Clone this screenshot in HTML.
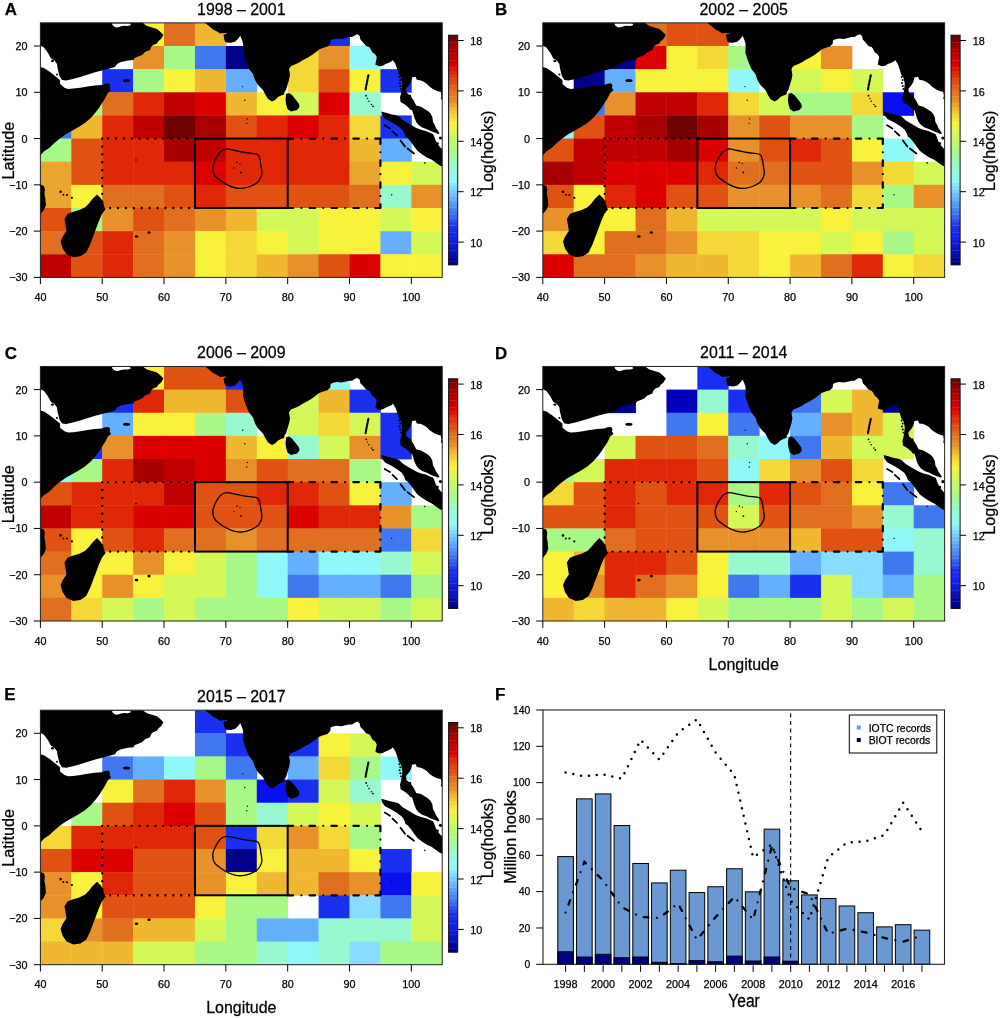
<!DOCTYPE html><html><head><meta charset="utf-8"><style>html,body{margin:0;padding:0;background:#fff;}svg{display:block;will-change:transform;}text{font-family:"Liberation Sans", sans-serif;fill:#000;stroke:#000;stroke-width:0.25px;}</style></head><body>
<svg width="1000" height="1018" viewBox="0 0 1000 1018">
<rect width="1000" height="1018" fill="#fff"/>
<defs>
<clipPath id="plotclip"><rect x="40.40" y="22.86" width="401.83" height="254.54"/></clipPath>
<g id="land"><path d="M30.0,10.0 L30.0,45.5 L40.2,45.5 L44.0,47.5 L48.0,53.0 L51.0,58.5 L54.0,60.0 L57.0,64.0 L57.5,68.0 L59.5,76.0 L62.0,80.0 L66.0,80.5 L73.0,79.0 L80.0,77.0 L88.0,74.5 L96.0,72.0 L102.0,70.5 L108.0,69.0 L115.0,67.0 L117.0,64.0 L121.0,62.0 L128.0,60.5 L133.5,60.0 L134.5,58.0 L137.0,57.0 L142.0,55.0 L145.0,52.0 L150.0,50.0 L151.0,47.0 L153.0,45.0 L157.0,43.5 L158.0,41.5 L161.0,39.0 L163.5,35.0 L162.0,33.5 L160.0,31.5 L157.0,29.0 L152.0,27.5 L147.0,26.0 L144.0,24.0 L142.5,22.0 L142.5,10.0ZM112.0,23.5 L130.0,23.5 L131.0,25.0 L128.0,26.0 L124.0,25.8 L121.0,26.3 L118.0,27.3 L116.0,27.5 L114.0,26.5 L112.5,25.0ZM20.0,67.0 L40.2,67.0 L44.0,68.0 L50.0,72.0 L55.0,76.0 L60.0,80.0 L60.1,84.1 L64.5,87.7 L68.1,89.0 L73.4,88.6 L80.4,87.7 L87.5,86.4 L94.6,85.5 L101.7,85.0 L105.2,83.7 L108.7,83.3 L110.1,85.5 L109.6,87.7 L111.0,90.3 L107.8,93.0 L105.2,98.3 L101.7,103.6 L99.0,108.0 L95.5,112.4 L91.0,117.7 L84.9,123.0 L77.8,127.5 L71.6,131.0 L65.4,134.5 L59.2,139.0 L53.9,143.4 L49.5,147.8 L44.2,151.3 L40.7,154.9 L30.0,157.0 L30.0,183.0 L40.5,184.6 L43.9,186.0 L44.9,189.5 L44.4,193.4 L45.4,199.3 L45.9,205.2 L43.9,210.1 L40.5,214.1 L30.0,216.0 L20.0,216.0ZM205.0,10.0 L205.0,23.0 L209.0,26.0 L213.0,29.5 L217.0,31.5 L220.0,33.5 L224.0,33.0 L227.5,33.2 L223.5,34.8 L224.0,38.0 L224.8,41.0 L226.0,42.5 L230.5,42.8 L235.0,41.8 L238.8,38.0 L240.2,35.8 L241.8,39.5 L243.0,43.0 L243.2,46.0 L243.0,53.0 L246.0,62.0 L249.0,69.0 L253.0,74.0 L255.0,80.0 L258.0,85.0 L263.0,90.0 L265.0,94.0 L268.0,99.0 L272.0,101.5 L275.0,100.0 L278.0,97.0 L281.0,95.5 L284.0,94.5 L284.5,92.0 L286.0,90.0 L287.5,85.0 L289.0,80.0 L290.0,75.0 L289.0,69.0 L291.0,66.0 L296.0,64.0 L300.0,62.0 L303.0,60.0 L307.0,58.0 L312.0,55.0 L316.0,52.0 L319.1,49.4 L324.0,47.6 L327.5,46.6 L330.3,43.8 L330.6,40.3 L333.1,39.2 L336.6,38.5 L341.5,38.9 L346.4,37.8 L348.8,37.1 L352.0,37.1 L355.5,35.0 L357.6,34.3 L359.7,36.1 L360.4,39.6 L363.2,42.4 L366.0,45.9 L369.5,47.3 L370.9,49.4 L372.3,52.2 L375.1,54.3 L376.8,57.1 L375.8,62.0 L375.4,64.8 L377.9,65.8 L379.9,66.2 L382.7,65.8 L385.5,64.1 L389.0,62.7 L391.8,61.3 L392.8,60.0 L395.2,63.6 L397.0,68.4 L398.8,74.4 L401.2,78.0 L402.4,84.0 L401.8,88.8 L401.2,93.0 L400.0,97.2 L400.6,102.0 L404.8,104.4 L409.0,108.0 L410.2,109.8 L412.0,110.0 L413.2,113.6 L414.4,117.8 L416.2,122.0 L418.6,125.0 L422.2,127.4 L427.0,129.2 L431.8,131.6 L435.4,132.8 L437.8,134.0 L439.6,133.4 L437.8,130.4 L436.0,128.0 L434.8,125.0 L433.0,122.0 L432.4,117.2 L430.6,113.6 L428.2,111.2 L427.0,110.5 L421.0,106.8 L416.2,105.6 L413.8,100.8 L411.4,97.2 L410.8,94.8 L409.0,94.8 L407.8,93.6 L406.6,93.0 L406.0,88.8 L409.0,85.2 L410.8,82.2 L411.7,79.2 L412.0,77.4 L415.6,76.8 L416.8,79.8 L421.0,80.4 L424.6,82.2 L427.0,84.0 L429.4,86.4 L431.8,88.2 L434.8,90.0 L437.8,91.2 L440.8,91.8 L441.4,96.0 L440.8,99.0 L442.6,99.6 L450.0,100.0 L450.0,10.0ZM381.2,111.5 L385.0,112.4 L391.0,114.2 L397.0,115.4 L399.4,116.6 L403.0,120.2 L409.0,123.8 L413.2,126.2 L416.2,128.0 L421.0,129.8 L425.8,131.0 L430.0,132.8 L433.0,134.0 L434.2,136.4 L436.0,141.2 L439.0,146.0 L441.4,148.4 L450.0,149.0 L450.0,167.0 L442.6,166.4 L440.2,165.8 L436.0,162.8 L431.8,159.8 L427.0,157.4 L422.2,154.4 L417.4,150.8 L413.8,146.0 L410.8,141.8 L407.8,138.2 L405.4,136.4 L404.2,132.8 L401.8,129.2 L397.0,125.6 L391.0,122.0 L385.0,119.0 L382.0,115.0ZM97.0,194.4 L100.9,198.3 L103.4,203.2 L104.8,208.2 L105.8,209.1 L101.9,214.1 L98.9,221.0 L96.0,228.8 L93.0,236.7 L90.1,244.5 L86.2,252.4 L80.3,256.3 L73.4,257.3 L66.5,254.3 L62.6,248.5 L60.6,241.6 L62.6,236.7 L66.5,230.8 L65.5,224.9 L64.5,219.0 L67.5,214.1 L72.4,212.1 L79.3,210.1 L85.2,207.2 L89.1,203.2 L92.1,199.3 L95.0,196.4ZM286.0,94.0 L289.0,93.0 L292.0,95.0 L296.0,100.0 L299.0,104.0 L299.5,107.0 L297.0,110.0 L291.0,111.5 L287.5,109.0 L286.0,104.0 L285.5,99.0 L286.0,96.0Z" fill="#000" fill-rule="evenodd"/><ellipse cx="52.5" cy="61.0" rx="1.50" ry="1.20" fill="#000"/><ellipse cx="57.0" cy="74.5" rx="1.00" ry="1.00" fill="#000"/><ellipse cx="126.5" cy="80.6" rx="3.60" ry="1.50" fill="#000"/><ellipse cx="60.6" cy="191.8" rx="1.30" ry="1.30" fill="#000"/><ellipse cx="63.4" cy="194.8" rx="1.00" ry="1.00" fill="#000"/><ellipse cx="67.0" cy="195.0" rx="1.10" ry="1.00" fill="#000"/><ellipse cx="71.9" cy="197.8" rx="1.10" ry="1.10" fill="#000"/><ellipse cx="136.0" cy="160.0" rx="0.80" ry="0.80" fill="#000"/><ellipse cx="136.5" cy="236.5" rx="1.80" ry="1.30" fill="#000"/><ellipse cx="149.0" cy="232.5" rx="1.60" ry="1.30" fill="#000"/><ellipse cx="242.7" cy="86.6" rx="0.70" ry="0.70" fill="#000"/><ellipse cx="244.8" cy="100.2" rx="0.70" ry="0.70" fill="#000"/><ellipse cx="247.3" cy="118.9" rx="0.70" ry="0.70" fill="#000"/><ellipse cx="246.8" cy="123.4" rx="0.70" ry="0.70" fill="#000"/><ellipse cx="366.1" cy="95.7" rx="0.90" ry="0.90" fill="#000"/><ellipse cx="367.5" cy="98.5" rx="0.70" ry="0.70" fill="#000"/><ellipse cx="368.9" cy="101.2" rx="0.80" ry="0.80" fill="#000"/><ellipse cx="371.5" cy="104.5" rx="0.80" ry="0.80" fill="#000"/><ellipse cx="373.0" cy="106.3" rx="0.90" ry="0.90" fill="#000"/><ellipse cx="391.7" cy="194.8" rx="0.70" ry="0.70" fill="#000"/><ellipse cx="424.8" cy="162.9" rx="0.80" ry="0.80" fill="#000"/><ellipse cx="399.3" cy="77.0" rx="1.00" ry="1.00" fill="#000"/><ellipse cx="400.3" cy="80.0" rx="1.00" ry="1.00" fill="#000"/><ellipse cx="399.6" cy="83.0" rx="1.00" ry="1.00" fill="#000"/><ellipse cx="400.4" cy="86.0" rx="1.00" ry="1.00" fill="#000"/><ellipse cx="401.0" cy="89.0" rx="0.90" ry="0.90" fill="#000"/><ellipse cx="440.5" cy="138.0" rx="1.60" ry="1.60" fill="#000"/><ellipse cx="437.5" cy="143.5" rx="1.30" ry="1.30" fill="#000"/><ellipse cx="237.0" cy="162.5" rx="0.80" ry="0.80" fill="#000"/><ellipse cx="240.0" cy="163.6" rx="0.60" ry="0.60" fill="#000"/><ellipse cx="234.0" cy="168.0" rx="0.70" ry="0.70" fill="#000"/><ellipse cx="241.0" cy="172.5" rx="0.90" ry="0.90" fill="#000"/><polyline points="368.4,75.3 367.4,80.0 366.4,85.0 365.6,89.5" fill="none" stroke="#000" stroke-width="2.1" stroke-linecap="round" stroke-dasharray="2.6 1.4"/><polyline points="384.7,125.3 390.0,128.5" fill="none" stroke="#000" stroke-width="1.8" stroke-linecap="round"/><polyline points="392.5,131.3 397.0,135.5" fill="none" stroke="#000" stroke-width="1.8" stroke-linecap="round"/><polyline points="400.5,140.5 405.0,146.5" fill="none" stroke="#000" stroke-width="1.8" stroke-linecap="round"/><polyline points="407.5,148.5 414.0,153.5" fill="none" stroke="#000" stroke-width="1.8" stroke-linecap="round"/></g>
<g id="boxes" fill="none" stroke="#000"><path d="M194.95,138.56 H102.22 M102.22,138.56 V207.98 M102.22,207.98 H194.95" stroke-width="2.4" stroke-dasharray="0 7.9" stroke-linecap="round"/><path d="M287.68,138.56 H380.41 M380.41,138.56 V207.98 M287.68,207.98 H380.41" stroke-width="2.2" stroke-dasharray="5.5 8.2 0 8.2" stroke-linecap="round"/><rect x="194.95" y="138.56" width="92.73" height="69.42" stroke-width="2"/><path d="M226.30,149.00 C228.76,148.75 231.88,149.92 235.00,150.50 C238.12,151.08 241.33,151.88 245.00,152.50 C248.67,153.12 254.58,153.33 257.00,154.25 C259.42,155.17 258.87,156.25 259.50,158.00 C260.13,159.75 260.40,162.12 260.80,164.75 C261.20,167.38 262.03,171.38 261.90,173.75 C261.77,176.12 260.82,177.50 260.00,179.00 C259.18,180.50 258.67,181.50 257.00,182.75 C255.33,184.00 252.50,185.56 250.00,186.50 C247.50,187.44 244.67,188.23 242.00,188.40 C239.33,188.57 236.75,188.25 234.00,187.50 C231.25,186.75 228.67,185.82 225.50,183.90 C222.33,181.98 217.12,178.69 215.00,176.00 C212.88,173.31 212.75,170.38 212.75,167.75 C212.75,165.12 213.75,162.88 215.00,160.25 C216.25,157.62 218.37,153.88 220.25,152.00 C222.13,150.12 223.84,149.25 226.30,149.00Z" stroke-width="1.3"/></g>
</defs>
<g transform="translate(0.00,0.00)">
<g clip-path="url(#plotclip)">
<rect x="133.13" y="22.86" width="31.31" height="23.54" fill="#f8f23c"/>
<rect x="164.04" y="22.86" width="31.31" height="23.54" fill="#e07020"/>
<rect x="194.95" y="22.86" width="31.31" height="23.54" fill="#f0b830"/>
<rect x="318.59" y="22.86" width="31.31" height="23.54" fill="#1a30f0"/>
<rect x="133.13" y="46.00" width="31.31" height="23.54" fill="#e8902a"/>
<rect x="164.04" y="46.00" width="31.31" height="23.54" fill="#a8f888"/>
<rect x="194.95" y="46.00" width="31.31" height="23.54" fill="#4078f0"/>
<rect x="225.86" y="46.00" width="31.31" height="23.54" fill="#00008c"/>
<rect x="287.68" y="46.00" width="31.31" height="23.54" fill="#f4d838"/>
<rect x="318.59" y="46.00" width="31.31" height="23.54" fill="#e8902a"/>
<rect x="349.50" y="46.00" width="31.31" height="23.54" fill="#90f8f8"/>
<rect x="102.22" y="69.14" width="31.31" height="23.54" fill="#1a30f0"/>
<rect x="133.13" y="69.14" width="31.31" height="23.54" fill="#a8f888"/>
<rect x="164.04" y="69.14" width="31.31" height="23.54" fill="#f8f23c"/>
<rect x="194.95" y="69.14" width="31.31" height="23.54" fill="#f0b830"/>
<rect x="225.86" y="69.14" width="31.31" height="23.54" fill="#64b0ff"/>
<rect x="287.68" y="69.14" width="31.31" height="23.54" fill="#f4d838"/>
<rect x="318.59" y="69.14" width="31.31" height="23.54" fill="#e05212"/>
<rect x="349.50" y="69.14" width="31.31" height="23.54" fill="#f8f23c"/>
<rect x="380.41" y="69.14" width="31.31" height="23.54" fill="#1a30f0"/>
<rect x="71.31" y="92.28" width="31.31" height="23.54" fill="#a8f888"/>
<rect x="102.22" y="92.28" width="31.31" height="23.54" fill="#e07020"/>
<rect x="133.13" y="92.28" width="31.31" height="23.54" fill="#e02808"/>
<rect x="164.04" y="92.28" width="31.31" height="23.54" fill="#c00000"/>
<rect x="194.95" y="92.28" width="31.31" height="23.54" fill="#dc0000"/>
<rect x="225.86" y="92.28" width="31.31" height="23.54" fill="#f0b830"/>
<rect x="256.77" y="92.28" width="31.31" height="23.54" fill="#f8f23c"/>
<rect x="287.68" y="92.28" width="31.31" height="23.54" fill="#d4f858"/>
<rect x="318.59" y="92.28" width="31.31" height="23.54" fill="#dc0000"/>
<rect x="349.50" y="92.28" width="31.31" height="23.54" fill="#98f8d0"/>
<rect x="40.40" y="115.42" width="31.31" height="23.54" fill="#4078f0"/>
<rect x="71.31" y="115.42" width="31.31" height="23.54" fill="#f0b830"/>
<rect x="102.22" y="115.42" width="31.31" height="23.54" fill="#e02808"/>
<rect x="133.13" y="115.42" width="31.31" height="23.54" fill="#c00000"/>
<rect x="164.04" y="115.42" width="31.31" height="23.54" fill="#700000"/>
<rect x="194.95" y="115.42" width="31.31" height="23.54" fill="#a80000"/>
<rect x="225.86" y="115.42" width="31.31" height="23.54" fill="#e05212"/>
<rect x="256.77" y="115.42" width="31.31" height="23.54" fill="#e02808"/>
<rect x="287.68" y="115.42" width="31.31" height="23.54" fill="#dc0000"/>
<rect x="318.59" y="115.42" width="31.31" height="23.54" fill="#e02808"/>
<rect x="349.50" y="115.42" width="31.31" height="23.54" fill="#f4d838"/>
<rect x="380.41" y="115.42" width="31.31" height="23.54" fill="#1a30f0"/>
<rect x="40.40" y="138.56" width="31.31" height="23.54" fill="#a8f888"/>
<rect x="71.31" y="138.56" width="31.31" height="23.54" fill="#e05212"/>
<rect x="102.22" y="138.56" width="31.31" height="23.54" fill="#e02808"/>
<rect x="133.13" y="138.56" width="31.31" height="23.54" fill="#e02808"/>
<rect x="164.04" y="138.56" width="31.31" height="23.54" fill="#a80000"/>
<rect x="194.95" y="138.56" width="31.31" height="23.54" fill="#c00000"/>
<rect x="225.86" y="138.56" width="31.31" height="23.54" fill="#e02808"/>
<rect x="256.77" y="138.56" width="31.31" height="23.54" fill="#e02808"/>
<rect x="287.68" y="138.56" width="31.31" height="23.54" fill="#e02808"/>
<rect x="318.59" y="138.56" width="31.31" height="23.54" fill="#e02808"/>
<rect x="349.50" y="138.56" width="31.31" height="23.54" fill="#f0b830"/>
<rect x="380.41" y="138.56" width="31.31" height="23.54" fill="#64b0ff"/>
<rect x="40.40" y="161.70" width="31.31" height="23.54" fill="#eaa62e"/>
<rect x="71.31" y="161.70" width="31.31" height="23.54" fill="#e05212"/>
<rect x="102.22" y="161.70" width="31.31" height="23.54" fill="#e02808"/>
<rect x="133.13" y="161.70" width="31.31" height="23.54" fill="#e02808"/>
<rect x="164.04" y="161.70" width="31.31" height="23.54" fill="#e02808"/>
<rect x="194.95" y="161.70" width="31.31" height="23.54" fill="#dc0000"/>
<rect x="225.86" y="161.70" width="31.31" height="23.54" fill="#e02808"/>
<rect x="256.77" y="161.70" width="31.31" height="23.54" fill="#e02808"/>
<rect x="287.68" y="161.70" width="31.31" height="23.54" fill="#e02808"/>
<rect x="318.59" y="161.70" width="31.31" height="23.54" fill="#e02808"/>
<rect x="349.50" y="161.70" width="31.31" height="23.54" fill="#eaa62e"/>
<rect x="380.41" y="161.70" width="31.31" height="23.54" fill="#f8f23c"/>
<rect x="411.32" y="161.70" width="31.31" height="23.54" fill="#d4f858"/>
<rect x="40.40" y="184.84" width="31.31" height="23.54" fill="#eaa62e"/>
<rect x="71.31" y="184.84" width="31.31" height="23.54" fill="#f8f23c"/>
<rect x="102.22" y="184.84" width="31.31" height="23.54" fill="#e07020"/>
<rect x="133.13" y="184.84" width="31.31" height="23.54" fill="#e07020"/>
<rect x="164.04" y="184.84" width="31.31" height="23.54" fill="#e05212"/>
<rect x="194.95" y="184.84" width="31.31" height="23.54" fill="#e02808"/>
<rect x="225.86" y="184.84" width="31.31" height="23.54" fill="#e05212"/>
<rect x="256.77" y="184.84" width="31.31" height="23.54" fill="#e05212"/>
<rect x="287.68" y="184.84" width="31.31" height="23.54" fill="#e05212"/>
<rect x="318.59" y="184.84" width="31.31" height="23.54" fill="#e05212"/>
<rect x="349.50" y="184.84" width="31.31" height="23.54" fill="#e07020"/>
<rect x="380.41" y="184.84" width="31.31" height="23.54" fill="#98f8d0"/>
<rect x="411.32" y="184.84" width="31.31" height="23.54" fill="#e8902a"/>
<rect x="40.40" y="207.98" width="31.31" height="23.54" fill="#e05212"/>
<rect x="71.31" y="207.98" width="31.31" height="23.54" fill="#a8f888"/>
<rect x="102.22" y="207.98" width="31.31" height="23.54" fill="#e8902a"/>
<rect x="133.13" y="207.98" width="31.31" height="23.54" fill="#e05212"/>
<rect x="164.04" y="207.98" width="31.31" height="23.54" fill="#e07020"/>
<rect x="194.95" y="207.98" width="31.31" height="23.54" fill="#e8902a"/>
<rect x="225.86" y="207.98" width="31.31" height="23.54" fill="#f0b830"/>
<rect x="256.77" y="207.98" width="31.31" height="23.54" fill="#d4f858"/>
<rect x="287.68" y="207.98" width="31.31" height="23.54" fill="#d4f858"/>
<rect x="318.59" y="207.98" width="31.31" height="23.54" fill="#f8f23c"/>
<rect x="349.50" y="207.98" width="31.31" height="23.54" fill="#f8f23c"/>
<rect x="380.41" y="207.98" width="31.31" height="23.54" fill="#d4f858"/>
<rect x="411.32" y="207.98" width="31.31" height="23.54" fill="#f8f23c"/>
<rect x="40.40" y="231.12" width="31.31" height="23.54" fill="#e07020"/>
<rect x="71.31" y="231.12" width="31.31" height="23.54" fill="#e05212"/>
<rect x="102.22" y="231.12" width="31.31" height="23.54" fill="#e02808"/>
<rect x="133.13" y="231.12" width="31.31" height="23.54" fill="#e07020"/>
<rect x="164.04" y="231.12" width="31.31" height="23.54" fill="#e8902a"/>
<rect x="194.95" y="231.12" width="31.31" height="23.54" fill="#f8f23c"/>
<rect x="225.86" y="231.12" width="31.31" height="23.54" fill="#f4d838"/>
<rect x="256.77" y="231.12" width="31.31" height="23.54" fill="#f8f23c"/>
<rect x="287.68" y="231.12" width="31.31" height="23.54" fill="#d4f858"/>
<rect x="318.59" y="231.12" width="31.31" height="23.54" fill="#f8f23c"/>
<rect x="349.50" y="231.12" width="31.31" height="23.54" fill="#f8f23c"/>
<rect x="380.41" y="231.12" width="31.31" height="23.54" fill="#64b0ff"/>
<rect x="411.32" y="231.12" width="31.31" height="23.54" fill="#d4f858"/>
<rect x="40.40" y="254.26" width="31.31" height="23.54" fill="#c00000"/>
<rect x="71.31" y="254.26" width="31.31" height="23.54" fill="#e05212"/>
<rect x="102.22" y="254.26" width="31.31" height="23.54" fill="#e02808"/>
<rect x="133.13" y="254.26" width="31.31" height="23.54" fill="#e07020"/>
<rect x="164.04" y="254.26" width="31.31" height="23.54" fill="#e8902a"/>
<rect x="194.95" y="254.26" width="31.31" height="23.54" fill="#f8f23c"/>
<rect x="225.86" y="254.26" width="31.31" height="23.54" fill="#f4d838"/>
<rect x="256.77" y="254.26" width="31.31" height="23.54" fill="#f0b830"/>
<rect x="287.68" y="254.26" width="31.31" height="23.54" fill="#e8902a"/>
<rect x="318.59" y="254.26" width="31.31" height="23.54" fill="#e05212"/>
<rect x="349.50" y="254.26" width="31.31" height="23.54" fill="#dc0000"/>
<rect x="380.41" y="254.26" width="31.31" height="23.54" fill="#f8f23c"/>
<rect x="411.32" y="254.26" width="31.31" height="23.54" fill="#f8f23c"/>
<use href="#land"/>
</g>
<use href="#boxes"/>
<rect x="40.40" y="22.86" width="401.83" height="254.54" fill="none" stroke="#222" stroke-width="1"/>
<line x1="33.80" y1="46.00" x2="40.40" y2="46.00" stroke="#000" stroke-width="1"/>
<text x="27.6" y="50.00" text-anchor="end" font-size="10.8">20</text>
<line x1="33.80" y1="92.28" x2="40.40" y2="92.28" stroke="#000" stroke-width="1"/>
<text x="27.6" y="96.28" text-anchor="end" font-size="10.8">10</text>
<line x1="33.80" y1="138.56" x2="40.40" y2="138.56" stroke="#000" stroke-width="1"/>
<text x="27.6" y="142.56" text-anchor="end" font-size="10.8">0</text>
<line x1="33.80" y1="184.84" x2="40.40" y2="184.84" stroke="#000" stroke-width="1"/>
<text x="27.6" y="188.84" text-anchor="end" font-size="10.8">−10</text>
<line x1="33.80" y1="231.12" x2="40.40" y2="231.12" stroke="#000" stroke-width="1"/>
<text x="27.6" y="235.12" text-anchor="end" font-size="10.8">−20</text>
<line x1="33.80" y1="277.40" x2="40.40" y2="277.40" stroke="#000" stroke-width="1"/>
<text x="27.6" y="281.40" text-anchor="end" font-size="10.8">−30</text>
<line x1="40.40" y1="277.40" x2="40.40" y2="284.20" stroke="#000" stroke-width="1"/>
<text x="40.40" y="301.0" text-anchor="middle" font-size="10.8">40</text>
<line x1="102.22" y1="277.40" x2="102.22" y2="284.20" stroke="#000" stroke-width="1"/>
<text x="102.22" y="301.0" text-anchor="middle" font-size="10.8">50</text>
<line x1="164.04" y1="277.40" x2="164.04" y2="284.20" stroke="#000" stroke-width="1"/>
<text x="164.04" y="301.0" text-anchor="middle" font-size="10.8">60</text>
<line x1="225.86" y1="277.40" x2="225.86" y2="284.20" stroke="#000" stroke-width="1"/>
<text x="225.86" y="301.0" text-anchor="middle" font-size="10.8">70</text>
<line x1="287.68" y1="277.40" x2="287.68" y2="284.20" stroke="#000" stroke-width="1"/>
<text x="287.68" y="301.0" text-anchor="middle" font-size="10.8">80</text>
<line x1="349.50" y1="277.40" x2="349.50" y2="284.20" stroke="#000" stroke-width="1"/>
<text x="349.50" y="301.0" text-anchor="middle" font-size="10.8">90</text>
<line x1="411.32" y1="277.40" x2="411.32" y2="284.20" stroke="#000" stroke-width="1"/>
<text x="411.32" y="301.0" text-anchor="middle" font-size="10.8">100</text>
<text transform="translate(241.31,14.5) scale(1,1.06)" text-anchor="middle" font-size="15.9">1998 – 2001</text>
<text transform="translate(13.5,150.6) rotate(-90)" text-anchor="middle" font-size="16.3">Latitude</text>
</g>
<rect x="448.60" y="261.21" width="9.10" height="3.89" fill="#00008c"/>
<rect x="448.60" y="257.62" width="9.10" height="3.89" fill="#03059a"/>
<rect x="448.60" y="254.04" width="9.10" height="3.89" fill="#0609a9"/>
<rect x="448.60" y="250.45" width="9.10" height="3.89" fill="#090eb7"/>
<rect x="448.60" y="246.86" width="9.10" height="3.89" fill="#0b12c5"/>
<rect x="448.60" y="243.28" width="9.10" height="3.89" fill="#0e17d3"/>
<rect x="448.60" y="239.69" width="9.10" height="3.89" fill="#111be2"/>
<rect x="448.60" y="236.10" width="9.10" height="3.89" fill="#1420f0"/>
<rect x="448.60" y="232.51" width="9.10" height="3.89" fill="#1625f0"/>
<rect x="448.60" y="228.93" width="9.10" height="3.89" fill="#182bf0"/>
<rect x="448.60" y="225.34" width="9.10" height="3.89" fill="#1a30f0"/>
<rect x="448.60" y="221.75" width="9.10" height="3.89" fill="#2442f0"/>
<rect x="448.60" y="218.16" width="9.10" height="3.89" fill="#2d54f0"/>
<rect x="448.60" y="214.57" width="9.10" height="3.89" fill="#3666f0"/>
<rect x="448.60" y="210.99" width="9.10" height="3.89" fill="#4078f0"/>
<rect x="448.60" y="207.40" width="9.10" height="3.89" fill="#4986f4"/>
<rect x="448.60" y="203.81" width="9.10" height="3.89" fill="#5294f8"/>
<rect x="448.60" y="200.23" width="9.10" height="3.89" fill="#5ba2fb"/>
<rect x="448.60" y="196.64" width="9.10" height="3.89" fill="#64b0ff"/>
<rect x="448.60" y="193.05" width="9.10" height="3.89" fill="#6dbefe"/>
<rect x="448.60" y="189.46" width="9.10" height="3.89" fill="#76cdfc"/>
<rect x="448.60" y="185.88" width="9.10" height="3.89" fill="#7edbfb"/>
<rect x="448.60" y="182.29" width="9.10" height="3.89" fill="#87eaf9"/>
<rect x="448.60" y="178.70" width="9.10" height="3.89" fill="#90f8f8"/>
<rect x="448.60" y="175.11" width="9.10" height="3.89" fill="#92f8ee"/>
<rect x="448.60" y="171.53" width="9.10" height="3.89" fill="#94f8e4"/>
<rect x="448.60" y="167.94" width="9.10" height="3.89" fill="#96f8da"/>
<rect x="448.60" y="164.35" width="9.10" height="3.89" fill="#98f8d0"/>
<rect x="448.60" y="160.76" width="9.10" height="3.89" fill="#9cf8be"/>
<rect x="448.60" y="157.18" width="9.10" height="3.89" fill="#a0f8ac"/>
<rect x="448.60" y="153.59" width="9.10" height="3.89" fill="#a4f89a"/>
<rect x="448.60" y="150.00" width="9.10" height="3.89" fill="#a8f888"/>
<rect x="448.60" y="146.41" width="9.10" height="3.89" fill="#b1f87e"/>
<rect x="448.60" y="142.82" width="9.10" height="3.89" fill="#baf875"/>
<rect x="448.60" y="139.24" width="9.10" height="3.89" fill="#c2f86b"/>
<rect x="448.60" y="135.65" width="9.10" height="3.89" fill="#cbf862"/>
<rect x="448.60" y="132.06" width="9.10" height="3.89" fill="#d4f858"/>
<rect x="448.60" y="128.47" width="9.10" height="3.89" fill="#e0f64f"/>
<rect x="448.60" y="124.89" width="9.10" height="3.89" fill="#ecf445"/>
<rect x="448.60" y="121.30" width="9.10" height="3.89" fill="#f8f23c"/>
<rect x="448.60" y="117.71" width="9.10" height="3.89" fill="#f6e53a"/>
<rect x="448.60" y="114.12" width="9.10" height="3.89" fill="#f4d838"/>
<rect x="448.60" y="110.54" width="9.10" height="3.89" fill="#f2c834"/>
<rect x="448.60" y="106.95" width="9.10" height="3.89" fill="#f0b830"/>
<rect x="448.60" y="103.36" width="9.10" height="3.89" fill="#eca42d"/>
<rect x="448.60" y="99.78" width="9.10" height="3.89" fill="#e8902a"/>
<rect x="448.60" y="96.19" width="9.10" height="3.89" fill="#e58527"/>
<rect x="448.60" y="92.60" width="9.10" height="3.89" fill="#e37b23"/>
<rect x="448.60" y="89.01" width="9.10" height="3.89" fill="#e07020"/>
<rect x="448.60" y="85.42" width="9.10" height="3.89" fill="#e06119"/>
<rect x="448.60" y="81.84" width="9.10" height="3.89" fill="#e05212"/>
<rect x="448.60" y="78.25" width="9.10" height="3.89" fill="#e0440f"/>
<rect x="448.60" y="74.66" width="9.10" height="3.89" fill="#e0360b"/>
<rect x="448.60" y="71.07" width="9.10" height="3.89" fill="#e02808"/>
<rect x="448.60" y="67.49" width="9.10" height="3.89" fill="#de1404"/>
<rect x="448.60" y="63.90" width="9.10" height="3.89" fill="#dc0000"/>
<rect x="448.60" y="60.31" width="9.10" height="3.89" fill="#d30000"/>
<rect x="448.60" y="56.72" width="9.10" height="3.89" fill="#c90000"/>
<rect x="448.60" y="53.14" width="9.10" height="3.89" fill="#c00000"/>
<rect x="448.60" y="49.55" width="9.10" height="3.89" fill="#b40000"/>
<rect x="448.60" y="45.96" width="9.10" height="3.89" fill="#a80000"/>
<rect x="448.60" y="42.38" width="9.10" height="3.89" fill="#950000"/>
<rect x="448.60" y="38.79" width="9.10" height="3.89" fill="#830000"/>
<rect x="448.60" y="35.20" width="9.10" height="3.89" fill="#700000"/>
<rect x="448.60" y="35.20" width="9.10" height="229.60" fill="none" stroke="#111" stroke-width="1"/>
<line x1="457.70" y1="242.10" x2="463.70" y2="242.10" stroke="#000" stroke-width="1"/>
<text x="470.30" y="246.70" font-size="10.8">10</text>
<line x1="457.70" y1="191.70" x2="463.70" y2="191.70" stroke="#000" stroke-width="1"/>
<text x="470.30" y="196.30" font-size="10.8">12</text>
<line x1="457.70" y1="141.30" x2="463.70" y2="141.30" stroke="#000" stroke-width="1"/>
<text x="470.30" y="145.90" font-size="10.8">14</text>
<line x1="457.70" y1="90.90" x2="463.70" y2="90.90" stroke="#000" stroke-width="1"/>
<text x="470.30" y="95.50" font-size="10.8">16</text>
<line x1="457.70" y1="40.50" x2="463.70" y2="40.50" stroke="#000" stroke-width="1"/>
<text x="470.30" y="45.10" font-size="10.8">18</text>
<text transform="translate(493.00,150.80) rotate(-90)" text-anchor="middle" font-size="16.1">Log(hooks)</text>
<g transform="translate(502.40,0.00)">
<g clip-path="url(#plotclip)">
<rect x="133.13" y="22.86" width="31.31" height="23.54" fill="#e07020"/>
<rect x="164.04" y="22.86" width="31.31" height="23.54" fill="#e05212"/>
<rect x="194.95" y="22.86" width="31.31" height="23.54" fill="#e05212"/>
<rect x="102.22" y="46.00" width="31.31" height="23.54" fill="#00008c"/>
<rect x="133.13" y="46.00" width="31.31" height="23.54" fill="#dc0000"/>
<rect x="164.04" y="46.00" width="31.31" height="23.54" fill="#f8f23c"/>
<rect x="194.95" y="46.00" width="31.31" height="23.54" fill="#f4d838"/>
<rect x="225.86" y="46.00" width="31.31" height="23.54" fill="#a8f888"/>
<rect x="287.68" y="46.00" width="31.31" height="23.54" fill="#f8f23c"/>
<rect x="318.59" y="46.00" width="31.31" height="23.54" fill="#e8902a"/>
<rect x="71.31" y="69.14" width="31.31" height="23.54" fill="#00008c"/>
<rect x="102.22" y="69.14" width="31.31" height="23.54" fill="#64b0ff"/>
<rect x="133.13" y="69.14" width="31.31" height="23.54" fill="#f8f23c"/>
<rect x="164.04" y="69.14" width="31.31" height="23.54" fill="#f8f23c"/>
<rect x="194.95" y="69.14" width="31.31" height="23.54" fill="#f8f23c"/>
<rect x="225.86" y="69.14" width="31.31" height="23.54" fill="#90f8f8"/>
<rect x="287.68" y="69.14" width="31.31" height="23.54" fill="#d4f858"/>
<rect x="318.59" y="69.14" width="31.31" height="23.54" fill="#f8f23c"/>
<rect x="349.50" y="69.14" width="31.31" height="23.54" fill="#d4f858"/>
<rect x="71.31" y="92.28" width="31.31" height="23.54" fill="#4078f0"/>
<rect x="102.22" y="92.28" width="31.31" height="23.54" fill="#e8902a"/>
<rect x="133.13" y="92.28" width="31.31" height="23.54" fill="#c00000"/>
<rect x="164.04" y="92.28" width="31.31" height="23.54" fill="#c00000"/>
<rect x="194.95" y="92.28" width="31.31" height="23.54" fill="#e02808"/>
<rect x="225.86" y="92.28" width="31.31" height="23.54" fill="#f4d838"/>
<rect x="256.77" y="92.28" width="31.31" height="23.54" fill="#d4f858"/>
<rect x="287.68" y="92.28" width="31.31" height="23.54" fill="#a8f888"/>
<rect x="318.59" y="92.28" width="31.31" height="23.54" fill="#a8f888"/>
<rect x="349.50" y="92.28" width="31.31" height="23.54" fill="#f4d838"/>
<rect x="380.41" y="92.28" width="31.31" height="23.54" fill="#0810ec"/>
<rect x="40.40" y="115.42" width="31.31" height="23.54" fill="#90f8f8"/>
<rect x="71.31" y="115.42" width="31.31" height="23.54" fill="#e05212"/>
<rect x="102.22" y="115.42" width="31.31" height="23.54" fill="#c00000"/>
<rect x="133.13" y="115.42" width="31.31" height="23.54" fill="#a80000"/>
<rect x="164.04" y="115.42" width="31.31" height="23.54" fill="#700000"/>
<rect x="194.95" y="115.42" width="31.31" height="23.54" fill="#a80000"/>
<rect x="225.86" y="115.42" width="31.31" height="23.54" fill="#e8902a"/>
<rect x="256.77" y="115.42" width="31.31" height="23.54" fill="#e05212"/>
<rect x="287.68" y="115.42" width="31.31" height="23.54" fill="#e8902a"/>
<rect x="318.59" y="115.42" width="31.31" height="23.54" fill="#e8902a"/>
<rect x="349.50" y="115.42" width="31.31" height="23.54" fill="#a8f888"/>
<rect x="40.40" y="138.56" width="31.31" height="23.54" fill="#e05212"/>
<rect x="71.31" y="138.56" width="31.31" height="23.54" fill="#c00000"/>
<rect x="102.22" y="138.56" width="31.31" height="23.54" fill="#c00000"/>
<rect x="133.13" y="138.56" width="31.31" height="23.54" fill="#c00000"/>
<rect x="164.04" y="138.56" width="31.31" height="23.54" fill="#a80000"/>
<rect x="194.95" y="138.56" width="31.31" height="23.54" fill="#dc0000"/>
<rect x="225.86" y="138.56" width="31.31" height="23.54" fill="#e8902a"/>
<rect x="256.77" y="138.56" width="31.31" height="23.54" fill="#e05212"/>
<rect x="287.68" y="138.56" width="31.31" height="23.54" fill="#e02808"/>
<rect x="318.59" y="138.56" width="31.31" height="23.54" fill="#e05212"/>
<rect x="349.50" y="138.56" width="31.31" height="23.54" fill="#f8f23c"/>
<rect x="380.41" y="138.56" width="31.31" height="23.54" fill="#90f8f8"/>
<rect x="40.40" y="161.70" width="31.31" height="23.54" fill="#a80000"/>
<rect x="71.31" y="161.70" width="31.31" height="23.54" fill="#c00000"/>
<rect x="102.22" y="161.70" width="31.31" height="23.54" fill="#dc0000"/>
<rect x="133.13" y="161.70" width="31.31" height="23.54" fill="#dc0000"/>
<rect x="164.04" y="161.70" width="31.31" height="23.54" fill="#dc0000"/>
<rect x="194.95" y="161.70" width="31.31" height="23.54" fill="#e02808"/>
<rect x="225.86" y="161.70" width="31.31" height="23.54" fill="#e07020"/>
<rect x="256.77" y="161.70" width="31.31" height="23.54" fill="#e07020"/>
<rect x="287.68" y="161.70" width="31.31" height="23.54" fill="#e05212"/>
<rect x="318.59" y="161.70" width="31.31" height="23.54" fill="#e05212"/>
<rect x="349.50" y="161.70" width="31.31" height="23.54" fill="#e8902a"/>
<rect x="380.41" y="161.70" width="31.31" height="23.54" fill="#f4d838"/>
<rect x="411.32" y="161.70" width="31.31" height="23.54" fill="#d4f858"/>
<rect x="40.40" y="184.84" width="31.31" height="23.54" fill="#e05212"/>
<rect x="71.31" y="184.84" width="31.31" height="23.54" fill="#f8f23c"/>
<rect x="102.22" y="184.84" width="31.31" height="23.54" fill="#e02808"/>
<rect x="133.13" y="184.84" width="31.31" height="23.54" fill="#dc0000"/>
<rect x="164.04" y="184.84" width="31.31" height="23.54" fill="#e05212"/>
<rect x="194.95" y="184.84" width="31.31" height="23.54" fill="#e05212"/>
<rect x="225.86" y="184.84" width="31.31" height="23.54" fill="#e8902a"/>
<rect x="256.77" y="184.84" width="31.31" height="23.54" fill="#e8902a"/>
<rect x="287.68" y="184.84" width="31.31" height="23.54" fill="#e8902a"/>
<rect x="318.59" y="184.84" width="31.31" height="23.54" fill="#e07020"/>
<rect x="349.50" y="184.84" width="31.31" height="23.54" fill="#f4d838"/>
<rect x="380.41" y="184.84" width="31.31" height="23.54" fill="#a8f888"/>
<rect x="411.32" y="184.84" width="31.31" height="23.54" fill="#e8902a"/>
<rect x="40.40" y="207.98" width="31.31" height="23.54" fill="#e8902a"/>
<rect x="71.31" y="207.98" width="31.31" height="23.54" fill="#f8f23c"/>
<rect x="102.22" y="207.98" width="31.31" height="23.54" fill="#f8f23c"/>
<rect x="133.13" y="207.98" width="31.31" height="23.54" fill="#e07020"/>
<rect x="164.04" y="207.98" width="31.31" height="23.54" fill="#f0b830"/>
<rect x="194.95" y="207.98" width="31.31" height="23.54" fill="#d4f858"/>
<rect x="225.86" y="207.98" width="31.31" height="23.54" fill="#d4f858"/>
<rect x="256.77" y="207.98" width="31.31" height="23.54" fill="#d4f858"/>
<rect x="287.68" y="207.98" width="31.31" height="23.54" fill="#d4f858"/>
<rect x="318.59" y="207.98" width="31.31" height="23.54" fill="#f8f23c"/>
<rect x="349.50" y="207.98" width="31.31" height="23.54" fill="#d4f858"/>
<rect x="380.41" y="207.98" width="31.31" height="23.54" fill="#d4f858"/>
<rect x="411.32" y="207.98" width="31.31" height="23.54" fill="#d4f858"/>
<rect x="40.40" y="231.12" width="31.31" height="23.54" fill="#f4d838"/>
<rect x="71.31" y="231.12" width="31.31" height="23.54" fill="#f8f23c"/>
<rect x="102.22" y="231.12" width="31.31" height="23.54" fill="#e07020"/>
<rect x="133.13" y="231.12" width="31.31" height="23.54" fill="#e07020"/>
<rect x="164.04" y="231.12" width="31.31" height="23.54" fill="#e8902a"/>
<rect x="194.95" y="231.12" width="31.31" height="23.54" fill="#f4d838"/>
<rect x="225.86" y="231.12" width="31.31" height="23.54" fill="#f4d838"/>
<rect x="256.77" y="231.12" width="31.31" height="23.54" fill="#f8f23c"/>
<rect x="287.68" y="231.12" width="31.31" height="23.54" fill="#f8f23c"/>
<rect x="318.59" y="231.12" width="31.31" height="23.54" fill="#d4f858"/>
<rect x="349.50" y="231.12" width="31.31" height="23.54" fill="#f8f23c"/>
<rect x="380.41" y="231.12" width="31.31" height="23.54" fill="#a8f888"/>
<rect x="411.32" y="231.12" width="31.31" height="23.54" fill="#d4f858"/>
<rect x="40.40" y="254.26" width="31.31" height="23.54" fill="#dc0000"/>
<rect x="71.31" y="254.26" width="31.31" height="23.54" fill="#e07020"/>
<rect x="102.22" y="254.26" width="31.31" height="23.54" fill="#e07020"/>
<rect x="133.13" y="254.26" width="31.31" height="23.54" fill="#e8902a"/>
<rect x="164.04" y="254.26" width="31.31" height="23.54" fill="#f0b830"/>
<rect x="194.95" y="254.26" width="31.31" height="23.54" fill="#f0b830"/>
<rect x="225.86" y="254.26" width="31.31" height="23.54" fill="#f4d838"/>
<rect x="256.77" y="254.26" width="31.31" height="23.54" fill="#f8f23c"/>
<rect x="287.68" y="254.26" width="31.31" height="23.54" fill="#f0b830"/>
<rect x="318.59" y="254.26" width="31.31" height="23.54" fill="#e07020"/>
<rect x="349.50" y="254.26" width="31.31" height="23.54" fill="#e02808"/>
<rect x="380.41" y="254.26" width="31.31" height="23.54" fill="#f8f23c"/>
<rect x="411.32" y="254.26" width="31.31" height="23.54" fill="#f4d838"/>
<use href="#land"/>
</g>
<use href="#boxes"/>
<rect x="40.40" y="22.86" width="401.83" height="254.54" fill="none" stroke="#222" stroke-width="1"/>
<line x1="33.80" y1="46.00" x2="40.40" y2="46.00" stroke="#000" stroke-width="1"/>
<text x="27.6" y="50.00" text-anchor="end" font-size="10.8">20</text>
<line x1="33.80" y1="92.28" x2="40.40" y2="92.28" stroke="#000" stroke-width="1"/>
<text x="27.6" y="96.28" text-anchor="end" font-size="10.8">10</text>
<line x1="33.80" y1="138.56" x2="40.40" y2="138.56" stroke="#000" stroke-width="1"/>
<text x="27.6" y="142.56" text-anchor="end" font-size="10.8">0</text>
<line x1="33.80" y1="184.84" x2="40.40" y2="184.84" stroke="#000" stroke-width="1"/>
<text x="27.6" y="188.84" text-anchor="end" font-size="10.8">−10</text>
<line x1="33.80" y1="231.12" x2="40.40" y2="231.12" stroke="#000" stroke-width="1"/>
<text x="27.6" y="235.12" text-anchor="end" font-size="10.8">−20</text>
<line x1="33.80" y1="277.40" x2="40.40" y2="277.40" stroke="#000" stroke-width="1"/>
<text x="27.6" y="281.40" text-anchor="end" font-size="10.8">−30</text>
<line x1="40.40" y1="277.40" x2="40.40" y2="284.20" stroke="#000" stroke-width="1"/>
<text x="40.40" y="301.0" text-anchor="middle" font-size="10.8">40</text>
<line x1="102.22" y1="277.40" x2="102.22" y2="284.20" stroke="#000" stroke-width="1"/>
<text x="102.22" y="301.0" text-anchor="middle" font-size="10.8">50</text>
<line x1="164.04" y1="277.40" x2="164.04" y2="284.20" stroke="#000" stroke-width="1"/>
<text x="164.04" y="301.0" text-anchor="middle" font-size="10.8">60</text>
<line x1="225.86" y1="277.40" x2="225.86" y2="284.20" stroke="#000" stroke-width="1"/>
<text x="225.86" y="301.0" text-anchor="middle" font-size="10.8">70</text>
<line x1="287.68" y1="277.40" x2="287.68" y2="284.20" stroke="#000" stroke-width="1"/>
<text x="287.68" y="301.0" text-anchor="middle" font-size="10.8">80</text>
<line x1="349.50" y1="277.40" x2="349.50" y2="284.20" stroke="#000" stroke-width="1"/>
<text x="349.50" y="301.0" text-anchor="middle" font-size="10.8">90</text>
<line x1="411.32" y1="277.40" x2="411.32" y2="284.20" stroke="#000" stroke-width="1"/>
<text x="411.32" y="301.0" text-anchor="middle" font-size="10.8">100</text>
<text transform="translate(241.31,14.5) scale(1,1.06)" text-anchor="middle" font-size="15.9">2002 – 2005</text>
</g>
<rect x="951.00" y="261.21" width="9.10" height="3.89" fill="#00008c"/>
<rect x="951.00" y="257.62" width="9.10" height="3.89" fill="#03059a"/>
<rect x="951.00" y="254.04" width="9.10" height="3.89" fill="#0609a9"/>
<rect x="951.00" y="250.45" width="9.10" height="3.89" fill="#090eb7"/>
<rect x="951.00" y="246.86" width="9.10" height="3.89" fill="#0b12c5"/>
<rect x="951.00" y="243.28" width="9.10" height="3.89" fill="#0e17d3"/>
<rect x="951.00" y="239.69" width="9.10" height="3.89" fill="#111be2"/>
<rect x="951.00" y="236.10" width="9.10" height="3.89" fill="#1420f0"/>
<rect x="951.00" y="232.51" width="9.10" height="3.89" fill="#1625f0"/>
<rect x="951.00" y="228.93" width="9.10" height="3.89" fill="#182bf0"/>
<rect x="951.00" y="225.34" width="9.10" height="3.89" fill="#1a30f0"/>
<rect x="951.00" y="221.75" width="9.10" height="3.89" fill="#2442f0"/>
<rect x="951.00" y="218.16" width="9.10" height="3.89" fill="#2d54f0"/>
<rect x="951.00" y="214.57" width="9.10" height="3.89" fill="#3666f0"/>
<rect x="951.00" y="210.99" width="9.10" height="3.89" fill="#4078f0"/>
<rect x="951.00" y="207.40" width="9.10" height="3.89" fill="#4986f4"/>
<rect x="951.00" y="203.81" width="9.10" height="3.89" fill="#5294f8"/>
<rect x="951.00" y="200.23" width="9.10" height="3.89" fill="#5ba2fb"/>
<rect x="951.00" y="196.64" width="9.10" height="3.89" fill="#64b0ff"/>
<rect x="951.00" y="193.05" width="9.10" height="3.89" fill="#6dbefe"/>
<rect x="951.00" y="189.46" width="9.10" height="3.89" fill="#76cdfc"/>
<rect x="951.00" y="185.88" width="9.10" height="3.89" fill="#7edbfb"/>
<rect x="951.00" y="182.29" width="9.10" height="3.89" fill="#87eaf9"/>
<rect x="951.00" y="178.70" width="9.10" height="3.89" fill="#90f8f8"/>
<rect x="951.00" y="175.11" width="9.10" height="3.89" fill="#92f8ee"/>
<rect x="951.00" y="171.53" width="9.10" height="3.89" fill="#94f8e4"/>
<rect x="951.00" y="167.94" width="9.10" height="3.89" fill="#96f8da"/>
<rect x="951.00" y="164.35" width="9.10" height="3.89" fill="#98f8d0"/>
<rect x="951.00" y="160.76" width="9.10" height="3.89" fill="#9cf8be"/>
<rect x="951.00" y="157.18" width="9.10" height="3.89" fill="#a0f8ac"/>
<rect x="951.00" y="153.59" width="9.10" height="3.89" fill="#a4f89a"/>
<rect x="951.00" y="150.00" width="9.10" height="3.89" fill="#a8f888"/>
<rect x="951.00" y="146.41" width="9.10" height="3.89" fill="#b1f87e"/>
<rect x="951.00" y="142.82" width="9.10" height="3.89" fill="#baf875"/>
<rect x="951.00" y="139.24" width="9.10" height="3.89" fill="#c2f86b"/>
<rect x="951.00" y="135.65" width="9.10" height="3.89" fill="#cbf862"/>
<rect x="951.00" y="132.06" width="9.10" height="3.89" fill="#d4f858"/>
<rect x="951.00" y="128.47" width="9.10" height="3.89" fill="#e0f64f"/>
<rect x="951.00" y="124.89" width="9.10" height="3.89" fill="#ecf445"/>
<rect x="951.00" y="121.30" width="9.10" height="3.89" fill="#f8f23c"/>
<rect x="951.00" y="117.71" width="9.10" height="3.89" fill="#f6e53a"/>
<rect x="951.00" y="114.12" width="9.10" height="3.89" fill="#f4d838"/>
<rect x="951.00" y="110.54" width="9.10" height="3.89" fill="#f2c834"/>
<rect x="951.00" y="106.95" width="9.10" height="3.89" fill="#f0b830"/>
<rect x="951.00" y="103.36" width="9.10" height="3.89" fill="#eca42d"/>
<rect x="951.00" y="99.78" width="9.10" height="3.89" fill="#e8902a"/>
<rect x="951.00" y="96.19" width="9.10" height="3.89" fill="#e58527"/>
<rect x="951.00" y="92.60" width="9.10" height="3.89" fill="#e37b23"/>
<rect x="951.00" y="89.01" width="9.10" height="3.89" fill="#e07020"/>
<rect x="951.00" y="85.42" width="9.10" height="3.89" fill="#e06119"/>
<rect x="951.00" y="81.84" width="9.10" height="3.89" fill="#e05212"/>
<rect x="951.00" y="78.25" width="9.10" height="3.89" fill="#e0440f"/>
<rect x="951.00" y="74.66" width="9.10" height="3.89" fill="#e0360b"/>
<rect x="951.00" y="71.07" width="9.10" height="3.89" fill="#e02808"/>
<rect x="951.00" y="67.49" width="9.10" height="3.89" fill="#de1404"/>
<rect x="951.00" y="63.90" width="9.10" height="3.89" fill="#dc0000"/>
<rect x="951.00" y="60.31" width="9.10" height="3.89" fill="#d30000"/>
<rect x="951.00" y="56.72" width="9.10" height="3.89" fill="#c90000"/>
<rect x="951.00" y="53.14" width="9.10" height="3.89" fill="#c00000"/>
<rect x="951.00" y="49.55" width="9.10" height="3.89" fill="#b40000"/>
<rect x="951.00" y="45.96" width="9.10" height="3.89" fill="#a80000"/>
<rect x="951.00" y="42.38" width="9.10" height="3.89" fill="#950000"/>
<rect x="951.00" y="38.79" width="9.10" height="3.89" fill="#830000"/>
<rect x="951.00" y="35.20" width="9.10" height="3.89" fill="#700000"/>
<rect x="951.00" y="35.20" width="9.10" height="229.60" fill="none" stroke="#111" stroke-width="1"/>
<line x1="960.10" y1="242.10" x2="966.10" y2="242.10" stroke="#000" stroke-width="1"/>
<text x="972.70" y="246.70" font-size="10.8">10</text>
<line x1="960.10" y1="191.70" x2="966.10" y2="191.70" stroke="#000" stroke-width="1"/>
<text x="972.70" y="196.30" font-size="10.8">12</text>
<line x1="960.10" y1="141.30" x2="966.10" y2="141.30" stroke="#000" stroke-width="1"/>
<text x="972.70" y="145.90" font-size="10.8">14</text>
<line x1="960.10" y1="90.90" x2="966.10" y2="90.90" stroke="#000" stroke-width="1"/>
<text x="972.70" y="95.50" font-size="10.8">16</text>
<line x1="960.10" y1="40.50" x2="966.10" y2="40.50" stroke="#000" stroke-width="1"/>
<text x="972.70" y="45.10" font-size="10.8">18</text>
<text transform="translate(995.40,150.80) rotate(-90)" text-anchor="middle" font-size="16.1">Log(hooks)</text>
<g transform="translate(0.00,343.60)">
<g clip-path="url(#plotclip)">
<rect x="133.13" y="22.86" width="31.31" height="23.54" fill="#f8f23c"/>
<rect x="164.04" y="22.86" width="31.31" height="23.54" fill="#e05212"/>
<rect x="194.95" y="22.86" width="31.31" height="23.54" fill="#e05212"/>
<rect x="225.86" y="22.86" width="31.31" height="23.54" fill="#1a30f0"/>
<rect x="318.59" y="22.86" width="31.31" height="23.54" fill="#90f8f8"/>
<rect x="102.22" y="46.00" width="31.31" height="23.54" fill="#1a30f0"/>
<rect x="133.13" y="46.00" width="31.31" height="23.54" fill="#e02808"/>
<rect x="164.04" y="46.00" width="31.31" height="23.54" fill="#f0b830"/>
<rect x="194.95" y="46.00" width="31.31" height="23.54" fill="#f0b830"/>
<rect x="225.86" y="46.00" width="31.31" height="23.54" fill="#e05212"/>
<rect x="287.68" y="46.00" width="31.31" height="23.54" fill="#d4f858"/>
<rect x="318.59" y="46.00" width="31.31" height="23.54" fill="#f0b830"/>
<rect x="349.50" y="46.00" width="31.31" height="23.54" fill="#1a30f0"/>
<rect x="102.22" y="69.14" width="31.31" height="23.54" fill="#64b0ff"/>
<rect x="133.13" y="69.14" width="31.31" height="23.54" fill="#f8f23c"/>
<rect x="164.04" y="69.14" width="31.31" height="23.54" fill="#f8f23c"/>
<rect x="194.95" y="69.14" width="31.31" height="23.54" fill="#a8f888"/>
<rect x="225.86" y="69.14" width="31.31" height="23.54" fill="#98f8d0"/>
<rect x="287.68" y="69.14" width="31.31" height="23.54" fill="#d4f858"/>
<rect x="318.59" y="69.14" width="31.31" height="23.54" fill="#f4d838"/>
<rect x="349.50" y="69.14" width="31.31" height="23.54" fill="#d4f858"/>
<rect x="380.41" y="69.14" width="31.31" height="23.54" fill="#1a30f0"/>
<rect x="71.31" y="92.28" width="31.31" height="23.54" fill="#1a30f0"/>
<rect x="102.22" y="92.28" width="31.31" height="23.54" fill="#e8902a"/>
<rect x="133.13" y="92.28" width="31.31" height="23.54" fill="#dc0000"/>
<rect x="164.04" y="92.28" width="31.31" height="23.54" fill="#dc0000"/>
<rect x="194.95" y="92.28" width="31.31" height="23.54" fill="#dc0000"/>
<rect x="225.86" y="92.28" width="31.31" height="23.54" fill="#f0b830"/>
<rect x="256.77" y="92.28" width="31.31" height="23.54" fill="#f8f23c"/>
<rect x="287.68" y="92.28" width="31.31" height="23.54" fill="#98f8d0"/>
<rect x="318.59" y="92.28" width="31.31" height="23.54" fill="#d4f858"/>
<rect x="349.50" y="92.28" width="31.31" height="23.54" fill="#e8902a"/>
<rect x="380.41" y="92.28" width="31.31" height="23.54" fill="#1a30f0"/>
<rect x="40.40" y="115.42" width="31.31" height="23.54" fill="#90f8f8"/>
<rect x="71.31" y="115.42" width="31.31" height="23.54" fill="#a8f888"/>
<rect x="102.22" y="115.42" width="31.31" height="23.54" fill="#e02808"/>
<rect x="133.13" y="115.42" width="31.31" height="23.54" fill="#a80000"/>
<rect x="164.04" y="115.42" width="31.31" height="23.54" fill="#c00000"/>
<rect x="194.95" y="115.42" width="31.31" height="23.54" fill="#dc0000"/>
<rect x="225.86" y="115.42" width="31.31" height="23.54" fill="#e8902a"/>
<rect x="256.77" y="115.42" width="31.31" height="23.54" fill="#e05212"/>
<rect x="287.68" y="115.42" width="31.31" height="23.54" fill="#e07020"/>
<rect x="318.59" y="115.42" width="31.31" height="23.54" fill="#e07020"/>
<rect x="349.50" y="115.42" width="31.31" height="23.54" fill="#a8f888"/>
<rect x="40.40" y="138.56" width="31.31" height="23.54" fill="#e05212"/>
<rect x="71.31" y="138.56" width="31.31" height="23.54" fill="#e02808"/>
<rect x="102.22" y="138.56" width="31.31" height="23.54" fill="#e02808"/>
<rect x="133.13" y="138.56" width="31.31" height="23.54" fill="#e02808"/>
<rect x="164.04" y="138.56" width="31.31" height="23.54" fill="#c00000"/>
<rect x="194.95" y="138.56" width="31.31" height="23.54" fill="#e05212"/>
<rect x="225.86" y="138.56" width="31.31" height="23.54" fill="#e05212"/>
<rect x="256.77" y="138.56" width="31.31" height="23.54" fill="#e02808"/>
<rect x="287.68" y="138.56" width="31.31" height="23.54" fill="#e02808"/>
<rect x="318.59" y="138.56" width="31.31" height="23.54" fill="#e05212"/>
<rect x="349.50" y="138.56" width="31.31" height="23.54" fill="#f8f23c"/>
<rect x="380.41" y="138.56" width="31.31" height="23.54" fill="#64b0ff"/>
<rect x="40.40" y="161.70" width="31.31" height="23.54" fill="#c00000"/>
<rect x="71.31" y="161.70" width="31.31" height="23.54" fill="#e02808"/>
<rect x="102.22" y="161.70" width="31.31" height="23.54" fill="#e02808"/>
<rect x="133.13" y="161.70" width="31.31" height="23.54" fill="#dc0000"/>
<rect x="164.04" y="161.70" width="31.31" height="23.54" fill="#dc0000"/>
<rect x="194.95" y="161.70" width="31.31" height="23.54" fill="#e05212"/>
<rect x="225.86" y="161.70" width="31.31" height="23.54" fill="#e05212"/>
<rect x="256.77" y="161.70" width="31.31" height="23.54" fill="#e05212"/>
<rect x="287.68" y="161.70" width="31.31" height="23.54" fill="#dc0000"/>
<rect x="318.59" y="161.70" width="31.31" height="23.54" fill="#e02808"/>
<rect x="349.50" y="161.70" width="31.31" height="23.54" fill="#e02808"/>
<rect x="380.41" y="161.70" width="31.31" height="23.54" fill="#e8902a"/>
<rect x="411.32" y="161.70" width="31.31" height="23.54" fill="#a8f888"/>
<rect x="40.40" y="184.84" width="31.31" height="23.54" fill="#e05212"/>
<rect x="71.31" y="184.84" width="31.31" height="23.54" fill="#f8f23c"/>
<rect x="102.22" y="184.84" width="31.31" height="23.54" fill="#e05212"/>
<rect x="133.13" y="184.84" width="31.31" height="23.54" fill="#e02808"/>
<rect x="164.04" y="184.84" width="31.31" height="23.54" fill="#e07020"/>
<rect x="194.95" y="184.84" width="31.31" height="23.54" fill="#e07020"/>
<rect x="225.86" y="184.84" width="31.31" height="23.54" fill="#e8902a"/>
<rect x="256.77" y="184.84" width="31.31" height="23.54" fill="#e07020"/>
<rect x="287.68" y="184.84" width="31.31" height="23.54" fill="#e07020"/>
<rect x="318.59" y="184.84" width="31.31" height="23.54" fill="#e07020"/>
<rect x="349.50" y="184.84" width="31.31" height="23.54" fill="#e07020"/>
<rect x="380.41" y="184.84" width="31.31" height="23.54" fill="#4078f0"/>
<rect x="411.32" y="184.84" width="31.31" height="23.54" fill="#f4d838"/>
<rect x="40.40" y="207.98" width="31.31" height="23.54" fill="#e07020"/>
<rect x="71.31" y="207.98" width="31.31" height="23.54" fill="#f8f23c"/>
<rect x="102.22" y="207.98" width="31.31" height="23.54" fill="#f8f23c"/>
<rect x="133.13" y="207.98" width="31.31" height="23.54" fill="#e8902a"/>
<rect x="164.04" y="207.98" width="31.31" height="23.54" fill="#f8f23c"/>
<rect x="194.95" y="207.98" width="31.31" height="23.54" fill="#d4f858"/>
<rect x="225.86" y="207.98" width="31.31" height="23.54" fill="#a8f888"/>
<rect x="256.77" y="207.98" width="31.31" height="23.54" fill="#90f8f8"/>
<rect x="287.68" y="207.98" width="31.31" height="23.54" fill="#64b0ff"/>
<rect x="318.59" y="207.98" width="31.31" height="23.54" fill="#90f8f8"/>
<rect x="349.50" y="207.98" width="31.31" height="23.54" fill="#90f8f8"/>
<rect x="380.41" y="207.98" width="31.31" height="23.54" fill="#98f8d0"/>
<rect x="411.32" y="207.98" width="31.31" height="23.54" fill="#d4f858"/>
<rect x="40.40" y="231.12" width="31.31" height="23.54" fill="#e8902a"/>
<rect x="71.31" y="231.12" width="31.31" height="23.54" fill="#f8f23c"/>
<rect x="102.22" y="231.12" width="31.31" height="23.54" fill="#e8902a"/>
<rect x="133.13" y="231.12" width="31.31" height="23.54" fill="#f8f23c"/>
<rect x="164.04" y="231.12" width="31.31" height="23.54" fill="#d4f858"/>
<rect x="194.95" y="231.12" width="31.31" height="23.54" fill="#d4f858"/>
<rect x="225.86" y="231.12" width="31.31" height="23.54" fill="#a8f888"/>
<rect x="256.77" y="231.12" width="31.31" height="23.54" fill="#90f8f8"/>
<rect x="287.68" y="231.12" width="31.31" height="23.54" fill="#4078f0"/>
<rect x="318.59" y="231.12" width="31.31" height="23.54" fill="#64b0ff"/>
<rect x="349.50" y="231.12" width="31.31" height="23.54" fill="#64b0ff"/>
<rect x="380.41" y="231.12" width="31.31" height="23.54" fill="#4078f0"/>
<rect x="411.32" y="231.12" width="31.31" height="23.54" fill="#a8f888"/>
<rect x="40.40" y="254.26" width="31.31" height="23.54" fill="#e07020"/>
<rect x="71.31" y="254.26" width="31.31" height="23.54" fill="#f4d838"/>
<rect x="102.22" y="254.26" width="31.31" height="23.54" fill="#d4f858"/>
<rect x="133.13" y="254.26" width="31.31" height="23.54" fill="#a8f888"/>
<rect x="164.04" y="254.26" width="31.31" height="23.54" fill="#d4f858"/>
<rect x="194.95" y="254.26" width="31.31" height="23.54" fill="#a8f888"/>
<rect x="225.86" y="254.26" width="31.31" height="23.54" fill="#a8f888"/>
<rect x="256.77" y="254.26" width="31.31" height="23.54" fill="#a8f888"/>
<rect x="287.68" y="254.26" width="31.31" height="23.54" fill="#f8f23c"/>
<rect x="318.59" y="254.26" width="31.31" height="23.54" fill="#d4f858"/>
<rect x="349.50" y="254.26" width="31.31" height="23.54" fill="#d4f858"/>
<rect x="380.41" y="254.26" width="31.31" height="23.54" fill="#a8f888"/>
<rect x="411.32" y="254.26" width="31.31" height="23.54" fill="#d4f858"/>
<use href="#land"/>
</g>
<use href="#boxes"/>
<rect x="40.40" y="22.86" width="401.83" height="254.54" fill="none" stroke="#222" stroke-width="1"/>
<line x1="33.80" y1="46.00" x2="40.40" y2="46.00" stroke="#000" stroke-width="1"/>
<text x="27.6" y="50.00" text-anchor="end" font-size="10.8">20</text>
<line x1="33.80" y1="92.28" x2="40.40" y2="92.28" stroke="#000" stroke-width="1"/>
<text x="27.6" y="96.28" text-anchor="end" font-size="10.8">10</text>
<line x1="33.80" y1="138.56" x2="40.40" y2="138.56" stroke="#000" stroke-width="1"/>
<text x="27.6" y="142.56" text-anchor="end" font-size="10.8">0</text>
<line x1="33.80" y1="184.84" x2="40.40" y2="184.84" stroke="#000" stroke-width="1"/>
<text x="27.6" y="188.84" text-anchor="end" font-size="10.8">−10</text>
<line x1="33.80" y1="231.12" x2="40.40" y2="231.12" stroke="#000" stroke-width="1"/>
<text x="27.6" y="235.12" text-anchor="end" font-size="10.8">−20</text>
<line x1="33.80" y1="277.40" x2="40.40" y2="277.40" stroke="#000" stroke-width="1"/>
<text x="27.6" y="281.40" text-anchor="end" font-size="10.8">−30</text>
<line x1="40.40" y1="277.40" x2="40.40" y2="284.20" stroke="#000" stroke-width="1"/>
<text x="40.40" y="301.0" text-anchor="middle" font-size="10.8">40</text>
<line x1="102.22" y1="277.40" x2="102.22" y2="284.20" stroke="#000" stroke-width="1"/>
<text x="102.22" y="301.0" text-anchor="middle" font-size="10.8">50</text>
<line x1="164.04" y1="277.40" x2="164.04" y2="284.20" stroke="#000" stroke-width="1"/>
<text x="164.04" y="301.0" text-anchor="middle" font-size="10.8">60</text>
<line x1="225.86" y1="277.40" x2="225.86" y2="284.20" stroke="#000" stroke-width="1"/>
<text x="225.86" y="301.0" text-anchor="middle" font-size="10.8">70</text>
<line x1="287.68" y1="277.40" x2="287.68" y2="284.20" stroke="#000" stroke-width="1"/>
<text x="287.68" y="301.0" text-anchor="middle" font-size="10.8">80</text>
<line x1="349.50" y1="277.40" x2="349.50" y2="284.20" stroke="#000" stroke-width="1"/>
<text x="349.50" y="301.0" text-anchor="middle" font-size="10.8">90</text>
<line x1="411.32" y1="277.40" x2="411.32" y2="284.20" stroke="#000" stroke-width="1"/>
<text x="411.32" y="301.0" text-anchor="middle" font-size="10.8">100</text>
<text transform="translate(241.31,14.5) scale(1,1.06)" text-anchor="middle" font-size="15.9">2006 – 2009</text>
<text transform="translate(13.5,150.6) rotate(-90)" text-anchor="middle" font-size="16.3">Latitude</text>
</g>
<rect x="448.60" y="604.81" width="9.10" height="3.89" fill="#00008c"/>
<rect x="448.60" y="601.23" width="9.10" height="3.89" fill="#03059a"/>
<rect x="448.60" y="597.64" width="9.10" height="3.89" fill="#0609a9"/>
<rect x="448.60" y="594.05" width="9.10" height="3.89" fill="#090eb7"/>
<rect x="448.60" y="590.46" width="9.10" height="3.89" fill="#0b12c5"/>
<rect x="448.60" y="586.88" width="9.10" height="3.89" fill="#0e17d3"/>
<rect x="448.60" y="583.29" width="9.10" height="3.89" fill="#111be2"/>
<rect x="448.60" y="579.70" width="9.10" height="3.89" fill="#1420f0"/>
<rect x="448.60" y="576.11" width="9.10" height="3.89" fill="#1625f0"/>
<rect x="448.60" y="572.53" width="9.10" height="3.89" fill="#182bf0"/>
<rect x="448.60" y="568.94" width="9.10" height="3.89" fill="#1a30f0"/>
<rect x="448.60" y="565.35" width="9.10" height="3.89" fill="#2442f0"/>
<rect x="448.60" y="561.76" width="9.10" height="3.89" fill="#2d54f0"/>
<rect x="448.60" y="558.18" width="9.10" height="3.89" fill="#3666f0"/>
<rect x="448.60" y="554.59" width="9.10" height="3.89" fill="#4078f0"/>
<rect x="448.60" y="551.00" width="9.10" height="3.89" fill="#4986f4"/>
<rect x="448.60" y="547.41" width="9.10" height="3.89" fill="#5294f8"/>
<rect x="448.60" y="543.83" width="9.10" height="3.89" fill="#5ba2fb"/>
<rect x="448.60" y="540.24" width="9.10" height="3.89" fill="#64b0ff"/>
<rect x="448.60" y="536.65" width="9.10" height="3.89" fill="#6dbefe"/>
<rect x="448.60" y="533.06" width="9.10" height="3.89" fill="#76cdfc"/>
<rect x="448.60" y="529.48" width="9.10" height="3.89" fill="#7edbfb"/>
<rect x="448.60" y="525.89" width="9.10" height="3.89" fill="#87eaf9"/>
<rect x="448.60" y="522.30" width="9.10" height="3.89" fill="#90f8f8"/>
<rect x="448.60" y="518.71" width="9.10" height="3.89" fill="#92f8ee"/>
<rect x="448.60" y="515.12" width="9.10" height="3.89" fill="#94f8e4"/>
<rect x="448.60" y="511.54" width="9.10" height="3.89" fill="#96f8da"/>
<rect x="448.60" y="507.95" width="9.10" height="3.89" fill="#98f8d0"/>
<rect x="448.60" y="504.36" width="9.10" height="3.89" fill="#9cf8be"/>
<rect x="448.60" y="500.78" width="9.10" height="3.89" fill="#a0f8ac"/>
<rect x="448.60" y="497.19" width="9.10" height="3.89" fill="#a4f89a"/>
<rect x="448.60" y="493.60" width="9.10" height="3.89" fill="#a8f888"/>
<rect x="448.60" y="490.01" width="9.10" height="3.89" fill="#b1f87e"/>
<rect x="448.60" y="486.43" width="9.10" height="3.89" fill="#baf875"/>
<rect x="448.60" y="482.84" width="9.10" height="3.89" fill="#c2f86b"/>
<rect x="448.60" y="479.25" width="9.10" height="3.89" fill="#cbf862"/>
<rect x="448.60" y="475.66" width="9.10" height="3.89" fill="#d4f858"/>
<rect x="448.60" y="472.08" width="9.10" height="3.89" fill="#e0f64f"/>
<rect x="448.60" y="468.49" width="9.10" height="3.89" fill="#ecf445"/>
<rect x="448.60" y="464.90" width="9.10" height="3.89" fill="#f8f23c"/>
<rect x="448.60" y="461.31" width="9.10" height="3.89" fill="#f6e53a"/>
<rect x="448.60" y="457.73" width="9.10" height="3.89" fill="#f4d838"/>
<rect x="448.60" y="454.14" width="9.10" height="3.89" fill="#f2c834"/>
<rect x="448.60" y="450.55" width="9.10" height="3.89" fill="#f0b830"/>
<rect x="448.60" y="446.96" width="9.10" height="3.89" fill="#eca42d"/>
<rect x="448.60" y="443.38" width="9.10" height="3.89" fill="#e8902a"/>
<rect x="448.60" y="439.79" width="9.10" height="3.89" fill="#e58527"/>
<rect x="448.60" y="436.20" width="9.10" height="3.89" fill="#e37b23"/>
<rect x="448.60" y="432.61" width="9.10" height="3.89" fill="#e07020"/>
<rect x="448.60" y="429.03" width="9.10" height="3.89" fill="#e06119"/>
<rect x="448.60" y="425.44" width="9.10" height="3.89" fill="#e05212"/>
<rect x="448.60" y="421.85" width="9.10" height="3.89" fill="#e0440f"/>
<rect x="448.60" y="418.26" width="9.10" height="3.89" fill="#e0360b"/>
<rect x="448.60" y="414.68" width="9.10" height="3.89" fill="#e02808"/>
<rect x="448.60" y="411.09" width="9.10" height="3.89" fill="#de1404"/>
<rect x="448.60" y="407.50" width="9.10" height="3.89" fill="#dc0000"/>
<rect x="448.60" y="403.91" width="9.10" height="3.89" fill="#d30000"/>
<rect x="448.60" y="400.33" width="9.10" height="3.89" fill="#c90000"/>
<rect x="448.60" y="396.74" width="9.10" height="3.89" fill="#c00000"/>
<rect x="448.60" y="393.15" width="9.10" height="3.89" fill="#b40000"/>
<rect x="448.60" y="389.56" width="9.10" height="3.89" fill="#a80000"/>
<rect x="448.60" y="385.98" width="9.10" height="3.89" fill="#950000"/>
<rect x="448.60" y="382.39" width="9.10" height="3.89" fill="#830000"/>
<rect x="448.60" y="378.80" width="9.10" height="3.89" fill="#700000"/>
<rect x="448.60" y="378.80" width="9.10" height="229.60" fill="none" stroke="#111" stroke-width="1"/>
<line x1="457.70" y1="585.70" x2="463.70" y2="585.70" stroke="#000" stroke-width="1"/>
<text x="470.30" y="590.30" font-size="10.8">10</text>
<line x1="457.70" y1="535.30" x2="463.70" y2="535.30" stroke="#000" stroke-width="1"/>
<text x="470.30" y="539.90" font-size="10.8">12</text>
<line x1="457.70" y1="484.90" x2="463.70" y2="484.90" stroke="#000" stroke-width="1"/>
<text x="470.30" y="489.50" font-size="10.8">14</text>
<line x1="457.70" y1="434.50" x2="463.70" y2="434.50" stroke="#000" stroke-width="1"/>
<text x="470.30" y="439.10" font-size="10.8">16</text>
<line x1="457.70" y1="384.10" x2="463.70" y2="384.10" stroke="#000" stroke-width="1"/>
<text x="470.30" y="388.70" font-size="10.8">18</text>
<text transform="translate(493.00,494.40) rotate(-90)" text-anchor="middle" font-size="16.1">Log(hooks)</text>
<g transform="translate(502.40,343.60)">
<g clip-path="url(#plotclip)">
<rect x="194.95" y="22.86" width="31.31" height="23.54" fill="#1a30f0"/>
<rect x="102.22" y="46.00" width="31.31" height="23.54" fill="#00008c"/>
<rect x="164.04" y="46.00" width="31.31" height="23.54" fill="#0000bc"/>
<rect x="194.95" y="46.00" width="31.31" height="23.54" fill="#98f8d0"/>
<rect x="225.86" y="46.00" width="31.31" height="23.54" fill="#1a30f0"/>
<rect x="287.68" y="46.00" width="31.31" height="23.54" fill="#4078f0"/>
<rect x="318.59" y="46.00" width="31.31" height="23.54" fill="#d4f858"/>
<rect x="349.50" y="46.00" width="31.31" height="23.54" fill="#f0b830"/>
<rect x="380.41" y="46.00" width="31.31" height="23.54" fill="#00008c"/>
<rect x="164.04" y="69.14" width="31.31" height="23.54" fill="#4078f0"/>
<rect x="194.95" y="69.14" width="31.31" height="23.54" fill="#f8f23c"/>
<rect x="225.86" y="69.14" width="31.31" height="23.54" fill="#4078f0"/>
<rect x="287.68" y="69.14" width="31.31" height="23.54" fill="#64b0ff"/>
<rect x="318.59" y="69.14" width="31.31" height="23.54" fill="#e8902a"/>
<rect x="349.50" y="69.14" width="31.31" height="23.54" fill="#f0b830"/>
<rect x="380.41" y="69.14" width="31.31" height="23.54" fill="#d4f858"/>
<rect x="102.22" y="92.28" width="31.31" height="23.54" fill="#d4f858"/>
<rect x="133.13" y="92.28" width="31.31" height="23.54" fill="#e05212"/>
<rect x="164.04" y="92.28" width="31.31" height="23.54" fill="#e05212"/>
<rect x="194.95" y="92.28" width="31.31" height="23.54" fill="#e07020"/>
<rect x="225.86" y="92.28" width="31.31" height="23.54" fill="#98f8d0"/>
<rect x="256.77" y="92.28" width="31.31" height="23.54" fill="#90f8f8"/>
<rect x="287.68" y="92.28" width="31.31" height="23.54" fill="#4078f0"/>
<rect x="318.59" y="92.28" width="31.31" height="23.54" fill="#f0b830"/>
<rect x="349.50" y="92.28" width="31.31" height="23.54" fill="#d4f858"/>
<rect x="380.41" y="92.28" width="31.31" height="23.54" fill="#d4f858"/>
<rect x="40.40" y="115.42" width="31.31" height="23.54" fill="#a8f888"/>
<rect x="71.31" y="115.42" width="31.31" height="23.54" fill="#d4f858"/>
<rect x="102.22" y="115.42" width="31.31" height="23.54" fill="#e02808"/>
<rect x="133.13" y="115.42" width="31.31" height="23.54" fill="#e02808"/>
<rect x="164.04" y="115.42" width="31.31" height="23.54" fill="#e02808"/>
<rect x="194.95" y="115.42" width="31.31" height="23.54" fill="#e05212"/>
<rect x="225.86" y="115.42" width="31.31" height="23.54" fill="#90f8f8"/>
<rect x="256.77" y="115.42" width="31.31" height="23.54" fill="#f4d838"/>
<rect x="287.68" y="115.42" width="31.31" height="23.54" fill="#e8902a"/>
<rect x="318.59" y="115.42" width="31.31" height="23.54" fill="#e05212"/>
<rect x="349.50" y="115.42" width="31.31" height="23.54" fill="#f4d838"/>
<rect x="40.40" y="138.56" width="31.31" height="23.54" fill="#f4d838"/>
<rect x="71.31" y="138.56" width="31.31" height="23.54" fill="#e05212"/>
<rect x="102.22" y="138.56" width="31.31" height="23.54" fill="#e02808"/>
<rect x="133.13" y="138.56" width="31.31" height="23.54" fill="#e05212"/>
<rect x="164.04" y="138.56" width="31.31" height="23.54" fill="#e02808"/>
<rect x="194.95" y="138.56" width="31.31" height="23.54" fill="#e02808"/>
<rect x="225.86" y="138.56" width="31.31" height="23.54" fill="#a8f888"/>
<rect x="256.77" y="138.56" width="31.31" height="23.54" fill="#e02808"/>
<rect x="287.68" y="138.56" width="31.31" height="23.54" fill="#e05212"/>
<rect x="318.59" y="138.56" width="31.31" height="23.54" fill="#e07020"/>
<rect x="349.50" y="138.56" width="31.31" height="23.54" fill="#f8f23c"/>
<rect x="380.41" y="138.56" width="31.31" height="23.54" fill="#4078f0"/>
<rect x="40.40" y="161.70" width="31.31" height="23.54" fill="#e05212"/>
<rect x="71.31" y="161.70" width="31.31" height="23.54" fill="#e05212"/>
<rect x="102.22" y="161.70" width="31.31" height="23.54" fill="#e02808"/>
<rect x="133.13" y="161.70" width="31.31" height="23.54" fill="#e05212"/>
<rect x="164.04" y="161.70" width="31.31" height="23.54" fill="#e05212"/>
<rect x="194.95" y="161.70" width="31.31" height="23.54" fill="#e05212"/>
<rect x="225.86" y="161.70" width="31.31" height="23.54" fill="#d4f858"/>
<rect x="256.77" y="161.70" width="31.31" height="23.54" fill="#e05212"/>
<rect x="287.68" y="161.70" width="31.31" height="23.54" fill="#e07020"/>
<rect x="318.59" y="161.70" width="31.31" height="23.54" fill="#e07020"/>
<rect x="349.50" y="161.70" width="31.31" height="23.54" fill="#e8902a"/>
<rect x="380.41" y="161.70" width="31.31" height="23.54" fill="#98f8d0"/>
<rect x="411.32" y="161.70" width="31.31" height="23.54" fill="#4078f0"/>
<rect x="40.40" y="184.84" width="31.31" height="23.54" fill="#a8f888"/>
<rect x="71.31" y="184.84" width="31.31" height="23.54" fill="#a8f888"/>
<rect x="102.22" y="184.84" width="31.31" height="23.54" fill="#e07020"/>
<rect x="133.13" y="184.84" width="31.31" height="23.54" fill="#e05212"/>
<rect x="164.04" y="184.84" width="31.31" height="23.54" fill="#e05212"/>
<rect x="194.95" y="184.84" width="31.31" height="23.54" fill="#e8902a"/>
<rect x="225.86" y="184.84" width="31.31" height="23.54" fill="#e8902a"/>
<rect x="256.77" y="184.84" width="31.31" height="23.54" fill="#e8902a"/>
<rect x="287.68" y="184.84" width="31.31" height="23.54" fill="#f0b830"/>
<rect x="318.59" y="184.84" width="31.31" height="23.54" fill="#e05212"/>
<rect x="349.50" y="184.84" width="31.31" height="23.54" fill="#e05212"/>
<rect x="380.41" y="184.84" width="31.31" height="23.54" fill="#90f8f8"/>
<rect x="411.32" y="184.84" width="31.31" height="23.54" fill="#98f8d0"/>
<rect x="40.40" y="207.98" width="31.31" height="23.54" fill="#f8f23c"/>
<rect x="71.31" y="207.98" width="31.31" height="23.54" fill="#f0b830"/>
<rect x="102.22" y="207.98" width="31.31" height="23.54" fill="#e02808"/>
<rect x="133.13" y="207.98" width="31.31" height="23.54" fill="#e02808"/>
<rect x="164.04" y="207.98" width="31.31" height="23.54" fill="#e05212"/>
<rect x="194.95" y="207.98" width="31.31" height="23.54" fill="#f8f23c"/>
<rect x="225.86" y="207.98" width="31.31" height="23.54" fill="#98f8d0"/>
<rect x="256.77" y="207.98" width="31.31" height="23.54" fill="#98f8d0"/>
<rect x="287.68" y="207.98" width="31.31" height="23.54" fill="#64b0ff"/>
<rect x="318.59" y="207.98" width="31.31" height="23.54" fill="#88dcff"/>
<rect x="349.50" y="207.98" width="31.31" height="23.54" fill="#88dcff"/>
<rect x="380.41" y="207.98" width="31.31" height="23.54" fill="#4078f0"/>
<rect x="411.32" y="207.98" width="31.31" height="23.54" fill="#98f8d0"/>
<rect x="40.40" y="231.12" width="31.31" height="23.54" fill="#f8f23c"/>
<rect x="71.31" y="231.12" width="31.31" height="23.54" fill="#e8902a"/>
<rect x="102.22" y="231.12" width="31.31" height="23.54" fill="#e02808"/>
<rect x="133.13" y="231.12" width="31.31" height="23.54" fill="#e07020"/>
<rect x="164.04" y="231.12" width="31.31" height="23.54" fill="#e8902a"/>
<rect x="194.95" y="231.12" width="31.31" height="23.54" fill="#f8f23c"/>
<rect x="225.86" y="231.12" width="31.31" height="23.54" fill="#4078f0"/>
<rect x="256.77" y="231.12" width="31.31" height="23.54" fill="#64b0ff"/>
<rect x="287.68" y="231.12" width="31.31" height="23.54" fill="#1a30f0"/>
<rect x="318.59" y="231.12" width="31.31" height="23.54" fill="#d4f858"/>
<rect x="349.50" y="231.12" width="31.31" height="23.54" fill="#88dcff"/>
<rect x="380.41" y="231.12" width="31.31" height="23.54" fill="#64b0ff"/>
<rect x="411.32" y="231.12" width="31.31" height="23.54" fill="#a8f888"/>
<rect x="40.40" y="254.26" width="31.31" height="23.54" fill="#f0b830"/>
<rect x="71.31" y="254.26" width="31.31" height="23.54" fill="#f4d838"/>
<rect x="102.22" y="254.26" width="31.31" height="23.54" fill="#f0b830"/>
<rect x="133.13" y="254.26" width="31.31" height="23.54" fill="#f0b830"/>
<rect x="164.04" y="254.26" width="31.31" height="23.54" fill="#f8f23c"/>
<rect x="194.95" y="254.26" width="31.31" height="23.54" fill="#d4f858"/>
<rect x="225.86" y="254.26" width="31.31" height="23.54" fill="#a8f888"/>
<rect x="256.77" y="254.26" width="31.31" height="23.54" fill="#a8f888"/>
<rect x="287.68" y="254.26" width="31.31" height="23.54" fill="#a8f888"/>
<rect x="318.59" y="254.26" width="31.31" height="23.54" fill="#d4f858"/>
<rect x="349.50" y="254.26" width="31.31" height="23.54" fill="#a8f888"/>
<rect x="380.41" y="254.26" width="31.31" height="23.54" fill="#d4f858"/>
<rect x="411.32" y="254.26" width="31.31" height="23.54" fill="#a8f888"/>
<use href="#land"/>
</g>
<use href="#boxes"/>
<rect x="40.40" y="22.86" width="401.83" height="254.54" fill="none" stroke="#222" stroke-width="1"/>
<line x1="33.80" y1="46.00" x2="40.40" y2="46.00" stroke="#000" stroke-width="1"/>
<text x="27.6" y="50.00" text-anchor="end" font-size="10.8">20</text>
<line x1="33.80" y1="92.28" x2="40.40" y2="92.28" stroke="#000" stroke-width="1"/>
<text x="27.6" y="96.28" text-anchor="end" font-size="10.8">10</text>
<line x1="33.80" y1="138.56" x2="40.40" y2="138.56" stroke="#000" stroke-width="1"/>
<text x="27.6" y="142.56" text-anchor="end" font-size="10.8">0</text>
<line x1="33.80" y1="184.84" x2="40.40" y2="184.84" stroke="#000" stroke-width="1"/>
<text x="27.6" y="188.84" text-anchor="end" font-size="10.8">−10</text>
<line x1="33.80" y1="231.12" x2="40.40" y2="231.12" stroke="#000" stroke-width="1"/>
<text x="27.6" y="235.12" text-anchor="end" font-size="10.8">−20</text>
<line x1="33.80" y1="277.40" x2="40.40" y2="277.40" stroke="#000" stroke-width="1"/>
<text x="27.6" y="281.40" text-anchor="end" font-size="10.8">−30</text>
<line x1="40.40" y1="277.40" x2="40.40" y2="284.20" stroke="#000" stroke-width="1"/>
<text x="40.40" y="301.0" text-anchor="middle" font-size="10.8">40</text>
<line x1="102.22" y1="277.40" x2="102.22" y2="284.20" stroke="#000" stroke-width="1"/>
<text x="102.22" y="301.0" text-anchor="middle" font-size="10.8">50</text>
<line x1="164.04" y1="277.40" x2="164.04" y2="284.20" stroke="#000" stroke-width="1"/>
<text x="164.04" y="301.0" text-anchor="middle" font-size="10.8">60</text>
<line x1="225.86" y1="277.40" x2="225.86" y2="284.20" stroke="#000" stroke-width="1"/>
<text x="225.86" y="301.0" text-anchor="middle" font-size="10.8">70</text>
<line x1="287.68" y1="277.40" x2="287.68" y2="284.20" stroke="#000" stroke-width="1"/>
<text x="287.68" y="301.0" text-anchor="middle" font-size="10.8">80</text>
<line x1="349.50" y1="277.40" x2="349.50" y2="284.20" stroke="#000" stroke-width="1"/>
<text x="349.50" y="301.0" text-anchor="middle" font-size="10.8">90</text>
<line x1="411.32" y1="277.40" x2="411.32" y2="284.20" stroke="#000" stroke-width="1"/>
<text x="411.32" y="301.0" text-anchor="middle" font-size="10.8">100</text>
<text transform="translate(241.31,14.5) scale(1,1.06)" text-anchor="middle" font-size="15.9">2011 – 2014</text>
</g>
<rect x="951.00" y="604.81" width="9.10" height="3.89" fill="#00008c"/>
<rect x="951.00" y="601.23" width="9.10" height="3.89" fill="#03059a"/>
<rect x="951.00" y="597.64" width="9.10" height="3.89" fill="#0609a9"/>
<rect x="951.00" y="594.05" width="9.10" height="3.89" fill="#090eb7"/>
<rect x="951.00" y="590.46" width="9.10" height="3.89" fill="#0b12c5"/>
<rect x="951.00" y="586.88" width="9.10" height="3.89" fill="#0e17d3"/>
<rect x="951.00" y="583.29" width="9.10" height="3.89" fill="#111be2"/>
<rect x="951.00" y="579.70" width="9.10" height="3.89" fill="#1420f0"/>
<rect x="951.00" y="576.11" width="9.10" height="3.89" fill="#1625f0"/>
<rect x="951.00" y="572.53" width="9.10" height="3.89" fill="#182bf0"/>
<rect x="951.00" y="568.94" width="9.10" height="3.89" fill="#1a30f0"/>
<rect x="951.00" y="565.35" width="9.10" height="3.89" fill="#2442f0"/>
<rect x="951.00" y="561.76" width="9.10" height="3.89" fill="#2d54f0"/>
<rect x="951.00" y="558.18" width="9.10" height="3.89" fill="#3666f0"/>
<rect x="951.00" y="554.59" width="9.10" height="3.89" fill="#4078f0"/>
<rect x="951.00" y="551.00" width="9.10" height="3.89" fill="#4986f4"/>
<rect x="951.00" y="547.41" width="9.10" height="3.89" fill="#5294f8"/>
<rect x="951.00" y="543.83" width="9.10" height="3.89" fill="#5ba2fb"/>
<rect x="951.00" y="540.24" width="9.10" height="3.89" fill="#64b0ff"/>
<rect x="951.00" y="536.65" width="9.10" height="3.89" fill="#6dbefe"/>
<rect x="951.00" y="533.06" width="9.10" height="3.89" fill="#76cdfc"/>
<rect x="951.00" y="529.48" width="9.10" height="3.89" fill="#7edbfb"/>
<rect x="951.00" y="525.89" width="9.10" height="3.89" fill="#87eaf9"/>
<rect x="951.00" y="522.30" width="9.10" height="3.89" fill="#90f8f8"/>
<rect x="951.00" y="518.71" width="9.10" height="3.89" fill="#92f8ee"/>
<rect x="951.00" y="515.12" width="9.10" height="3.89" fill="#94f8e4"/>
<rect x="951.00" y="511.54" width="9.10" height="3.89" fill="#96f8da"/>
<rect x="951.00" y="507.95" width="9.10" height="3.89" fill="#98f8d0"/>
<rect x="951.00" y="504.36" width="9.10" height="3.89" fill="#9cf8be"/>
<rect x="951.00" y="500.78" width="9.10" height="3.89" fill="#a0f8ac"/>
<rect x="951.00" y="497.19" width="9.10" height="3.89" fill="#a4f89a"/>
<rect x="951.00" y="493.60" width="9.10" height="3.89" fill="#a8f888"/>
<rect x="951.00" y="490.01" width="9.10" height="3.89" fill="#b1f87e"/>
<rect x="951.00" y="486.43" width="9.10" height="3.89" fill="#baf875"/>
<rect x="951.00" y="482.84" width="9.10" height="3.89" fill="#c2f86b"/>
<rect x="951.00" y="479.25" width="9.10" height="3.89" fill="#cbf862"/>
<rect x="951.00" y="475.66" width="9.10" height="3.89" fill="#d4f858"/>
<rect x="951.00" y="472.08" width="9.10" height="3.89" fill="#e0f64f"/>
<rect x="951.00" y="468.49" width="9.10" height="3.89" fill="#ecf445"/>
<rect x="951.00" y="464.90" width="9.10" height="3.89" fill="#f8f23c"/>
<rect x="951.00" y="461.31" width="9.10" height="3.89" fill="#f6e53a"/>
<rect x="951.00" y="457.73" width="9.10" height="3.89" fill="#f4d838"/>
<rect x="951.00" y="454.14" width="9.10" height="3.89" fill="#f2c834"/>
<rect x="951.00" y="450.55" width="9.10" height="3.89" fill="#f0b830"/>
<rect x="951.00" y="446.96" width="9.10" height="3.89" fill="#eca42d"/>
<rect x="951.00" y="443.38" width="9.10" height="3.89" fill="#e8902a"/>
<rect x="951.00" y="439.79" width="9.10" height="3.89" fill="#e58527"/>
<rect x="951.00" y="436.20" width="9.10" height="3.89" fill="#e37b23"/>
<rect x="951.00" y="432.61" width="9.10" height="3.89" fill="#e07020"/>
<rect x="951.00" y="429.03" width="9.10" height="3.89" fill="#e06119"/>
<rect x="951.00" y="425.44" width="9.10" height="3.89" fill="#e05212"/>
<rect x="951.00" y="421.85" width="9.10" height="3.89" fill="#e0440f"/>
<rect x="951.00" y="418.26" width="9.10" height="3.89" fill="#e0360b"/>
<rect x="951.00" y="414.68" width="9.10" height="3.89" fill="#e02808"/>
<rect x="951.00" y="411.09" width="9.10" height="3.89" fill="#de1404"/>
<rect x="951.00" y="407.50" width="9.10" height="3.89" fill="#dc0000"/>
<rect x="951.00" y="403.91" width="9.10" height="3.89" fill="#d30000"/>
<rect x="951.00" y="400.33" width="9.10" height="3.89" fill="#c90000"/>
<rect x="951.00" y="396.74" width="9.10" height="3.89" fill="#c00000"/>
<rect x="951.00" y="393.15" width="9.10" height="3.89" fill="#b40000"/>
<rect x="951.00" y="389.56" width="9.10" height="3.89" fill="#a80000"/>
<rect x="951.00" y="385.98" width="9.10" height="3.89" fill="#950000"/>
<rect x="951.00" y="382.39" width="9.10" height="3.89" fill="#830000"/>
<rect x="951.00" y="378.80" width="9.10" height="3.89" fill="#700000"/>
<rect x="951.00" y="378.80" width="9.10" height="229.60" fill="none" stroke="#111" stroke-width="1"/>
<line x1="960.10" y1="585.70" x2="966.10" y2="585.70" stroke="#000" stroke-width="1"/>
<text x="972.70" y="590.30" font-size="10.8">10</text>
<line x1="960.10" y1="535.30" x2="966.10" y2="535.30" stroke="#000" stroke-width="1"/>
<text x="972.70" y="539.90" font-size="10.8">12</text>
<line x1="960.10" y1="484.90" x2="966.10" y2="484.90" stroke="#000" stroke-width="1"/>
<text x="972.70" y="489.50" font-size="10.8">14</text>
<line x1="960.10" y1="434.50" x2="966.10" y2="434.50" stroke="#000" stroke-width="1"/>
<text x="972.70" y="439.10" font-size="10.8">16</text>
<line x1="960.10" y1="384.10" x2="966.10" y2="384.10" stroke="#000" stroke-width="1"/>
<text x="972.70" y="388.70" font-size="10.8">18</text>
<text transform="translate(995.40,494.40) rotate(-90)" text-anchor="middle" font-size="16.1">Log(hooks)</text>
<g transform="translate(0.00,687.30)">
<g clip-path="url(#plotclip)">
<rect x="194.95" y="22.86" width="31.31" height="23.54" fill="#1a30f0"/>
<rect x="194.95" y="46.00" width="31.31" height="23.54" fill="#4078f0"/>
<rect x="225.86" y="46.00" width="31.31" height="23.54" fill="#1a30f0"/>
<rect x="287.68" y="46.00" width="31.31" height="23.54" fill="#1a30f0"/>
<rect x="318.59" y="46.00" width="31.31" height="23.54" fill="#f8f23c"/>
<rect x="349.50" y="46.00" width="31.31" height="23.54" fill="#d4f858"/>
<rect x="102.22" y="69.14" width="31.31" height="23.54" fill="#4078f0"/>
<rect x="133.13" y="69.14" width="31.31" height="23.54" fill="#64b0ff"/>
<rect x="164.04" y="69.14" width="31.31" height="23.54" fill="#90f8f8"/>
<rect x="194.95" y="69.14" width="31.31" height="23.54" fill="#a8f888"/>
<rect x="225.86" y="69.14" width="31.31" height="23.54" fill="#4078f0"/>
<rect x="287.68" y="69.14" width="31.31" height="23.54" fill="#64b0ff"/>
<rect x="318.59" y="69.14" width="31.31" height="23.54" fill="#f4d838"/>
<rect x="349.50" y="69.14" width="31.31" height="23.54" fill="#a8f888"/>
<rect x="380.41" y="69.14" width="31.31" height="23.54" fill="#90f8f8"/>
<rect x="102.22" y="92.28" width="31.31" height="23.54" fill="#f8f23c"/>
<rect x="133.13" y="92.28" width="31.31" height="23.54" fill="#e07020"/>
<rect x="164.04" y="92.28" width="31.31" height="23.54" fill="#e02808"/>
<rect x="194.95" y="92.28" width="31.31" height="23.54" fill="#e8902a"/>
<rect x="225.86" y="92.28" width="31.31" height="23.54" fill="#a8f888"/>
<rect x="256.77" y="92.28" width="31.31" height="23.54" fill="#0810ec"/>
<rect x="287.68" y="92.28" width="31.31" height="23.54" fill="#1a30f0"/>
<rect x="318.59" y="92.28" width="31.31" height="23.54" fill="#d4f858"/>
<rect x="349.50" y="92.28" width="31.31" height="23.54" fill="#98f8d0"/>
<rect x="71.31" y="115.42" width="31.31" height="23.54" fill="#a8f888"/>
<rect x="102.22" y="115.42" width="31.31" height="23.54" fill="#e05212"/>
<rect x="133.13" y="115.42" width="31.31" height="23.54" fill="#e02808"/>
<rect x="164.04" y="115.42" width="31.31" height="23.54" fill="#dc0000"/>
<rect x="194.95" y="115.42" width="31.31" height="23.54" fill="#e05212"/>
<rect x="225.86" y="115.42" width="31.31" height="23.54" fill="#a8f888"/>
<rect x="256.77" y="115.42" width="31.31" height="23.54" fill="#98f8d0"/>
<rect x="287.68" y="115.42" width="31.31" height="23.54" fill="#d4f858"/>
<rect x="318.59" y="115.42" width="31.31" height="23.54" fill="#f8f23c"/>
<rect x="349.50" y="115.42" width="31.31" height="23.54" fill="#d4f858"/>
<rect x="40.40" y="138.56" width="31.31" height="23.54" fill="#f4d838"/>
<rect x="71.31" y="138.56" width="31.31" height="23.54" fill="#e02808"/>
<rect x="102.22" y="138.56" width="31.31" height="23.54" fill="#e02808"/>
<rect x="133.13" y="138.56" width="31.31" height="23.54" fill="#e02808"/>
<rect x="164.04" y="138.56" width="31.31" height="23.54" fill="#e02808"/>
<rect x="194.95" y="138.56" width="31.31" height="23.54" fill="#e05212"/>
<rect x="225.86" y="138.56" width="31.31" height="23.54" fill="#1a30f0"/>
<rect x="256.77" y="138.56" width="31.31" height="23.54" fill="#f4d838"/>
<rect x="287.68" y="138.56" width="31.31" height="23.54" fill="#e8902a"/>
<rect x="318.59" y="138.56" width="31.31" height="23.54" fill="#f4d838"/>
<rect x="349.50" y="138.56" width="31.31" height="23.54" fill="#a8f888"/>
<rect x="40.40" y="161.70" width="31.31" height="23.54" fill="#e05212"/>
<rect x="71.31" y="161.70" width="31.31" height="23.54" fill="#dc0000"/>
<rect x="102.22" y="161.70" width="31.31" height="23.54" fill="#dc0000"/>
<rect x="133.13" y="161.70" width="31.31" height="23.54" fill="#e05212"/>
<rect x="164.04" y="161.70" width="31.31" height="23.54" fill="#e05212"/>
<rect x="194.95" y="161.70" width="31.31" height="23.54" fill="#e8902a"/>
<rect x="225.86" y="161.70" width="31.31" height="23.54" fill="#00008c"/>
<rect x="256.77" y="161.70" width="31.31" height="23.54" fill="#f8f23c"/>
<rect x="287.68" y="161.70" width="31.31" height="23.54" fill="#f0b830"/>
<rect x="318.59" y="161.70" width="31.31" height="23.54" fill="#f0b830"/>
<rect x="349.50" y="161.70" width="31.31" height="23.54" fill="#f8f23c"/>
<rect x="380.41" y="161.70" width="31.31" height="23.54" fill="#1a30f0"/>
<rect x="40.40" y="184.84" width="31.31" height="23.54" fill="#e8902a"/>
<rect x="71.31" y="184.84" width="31.31" height="23.54" fill="#f8f23c"/>
<rect x="102.22" y="184.84" width="31.31" height="23.54" fill="#e02808"/>
<rect x="133.13" y="184.84" width="31.31" height="23.54" fill="#e05212"/>
<rect x="164.04" y="184.84" width="31.31" height="23.54" fill="#e05212"/>
<rect x="194.95" y="184.84" width="31.31" height="23.54" fill="#e8902a"/>
<rect x="225.86" y="184.84" width="31.31" height="23.54" fill="#f8f23c"/>
<rect x="256.77" y="184.84" width="31.31" height="23.54" fill="#f0b830"/>
<rect x="287.68" y="184.84" width="31.31" height="23.54" fill="#f0b830"/>
<rect x="318.59" y="184.84" width="31.31" height="23.54" fill="#e07020"/>
<rect x="349.50" y="184.84" width="31.31" height="23.54" fill="#e8902a"/>
<rect x="380.41" y="184.84" width="31.31" height="23.54" fill="#0810ec"/>
<rect x="411.32" y="184.84" width="31.31" height="23.54" fill="#f8f23c"/>
<rect x="40.40" y="207.98" width="31.31" height="23.54" fill="#e8902a"/>
<rect x="71.31" y="207.98" width="31.31" height="23.54" fill="#f8f23c"/>
<rect x="102.22" y="207.98" width="31.31" height="23.54" fill="#e05212"/>
<rect x="133.13" y="207.98" width="31.31" height="23.54" fill="#e05212"/>
<rect x="164.04" y="207.98" width="31.31" height="23.54" fill="#e05212"/>
<rect x="194.95" y="207.98" width="31.31" height="23.54" fill="#f8f23c"/>
<rect x="225.86" y="207.98" width="31.31" height="23.54" fill="#a8f888"/>
<rect x="256.77" y="207.98" width="31.31" height="23.54" fill="#a8f888"/>
<rect x="318.59" y="207.98" width="31.31" height="23.54" fill="#1a30f0"/>
<rect x="349.50" y="207.98" width="31.31" height="23.54" fill="#88dcff"/>
<rect x="380.41" y="207.98" width="31.31" height="23.54" fill="#4078f0"/>
<rect x="411.32" y="207.98" width="31.31" height="23.54" fill="#d4f858"/>
<rect x="40.40" y="231.12" width="31.31" height="23.54" fill="#f4d838"/>
<rect x="71.31" y="231.12" width="31.31" height="23.54" fill="#e8902a"/>
<rect x="102.22" y="231.12" width="31.31" height="23.54" fill="#e07020"/>
<rect x="133.13" y="231.12" width="31.31" height="23.54" fill="#f0b830"/>
<rect x="164.04" y="231.12" width="31.31" height="23.54" fill="#f0b830"/>
<rect x="194.95" y="231.12" width="31.31" height="23.54" fill="#d4f858"/>
<rect x="225.86" y="231.12" width="31.31" height="23.54" fill="#a8f888"/>
<rect x="256.77" y="231.12" width="31.31" height="23.54" fill="#64b0ff"/>
<rect x="287.68" y="231.12" width="31.31" height="23.54" fill="#64b0ff"/>
<rect x="318.59" y="231.12" width="31.31" height="23.54" fill="#98f8d0"/>
<rect x="349.50" y="231.12" width="31.31" height="23.54" fill="#98f8d0"/>
<rect x="380.41" y="231.12" width="31.31" height="23.54" fill="#98f8d0"/>
<rect x="411.32" y="231.12" width="31.31" height="23.54" fill="#d4f858"/>
<rect x="40.40" y="254.26" width="31.31" height="23.54" fill="#f0b830"/>
<rect x="71.31" y="254.26" width="31.31" height="23.54" fill="#f0b830"/>
<rect x="102.22" y="254.26" width="31.31" height="23.54" fill="#f0b830"/>
<rect x="133.13" y="254.26" width="31.31" height="23.54" fill="#d4f858"/>
<rect x="164.04" y="254.26" width="31.31" height="23.54" fill="#d4f858"/>
<rect x="194.95" y="254.26" width="31.31" height="23.54" fill="#a8f888"/>
<rect x="225.86" y="254.26" width="31.31" height="23.54" fill="#a8f888"/>
<rect x="256.77" y="254.26" width="31.31" height="23.54" fill="#98f8d0"/>
<rect x="287.68" y="254.26" width="31.31" height="23.54" fill="#90f8f8"/>
<rect x="318.59" y="254.26" width="31.31" height="23.54" fill="#98f8d0"/>
<rect x="349.50" y="254.26" width="31.31" height="23.54" fill="#88dcff"/>
<rect x="380.41" y="254.26" width="31.31" height="23.54" fill="#a8f888"/>
<rect x="411.32" y="254.26" width="31.31" height="23.54" fill="#a8f888"/>
<use href="#land"/>
</g>
<use href="#boxes"/>
<rect x="40.40" y="22.86" width="401.83" height="254.54" fill="none" stroke="#222" stroke-width="1"/>
<line x1="33.80" y1="46.00" x2="40.40" y2="46.00" stroke="#000" stroke-width="1"/>
<text x="27.6" y="50.00" text-anchor="end" font-size="10.8">20</text>
<line x1="33.80" y1="92.28" x2="40.40" y2="92.28" stroke="#000" stroke-width="1"/>
<text x="27.6" y="96.28" text-anchor="end" font-size="10.8">10</text>
<line x1="33.80" y1="138.56" x2="40.40" y2="138.56" stroke="#000" stroke-width="1"/>
<text x="27.6" y="142.56" text-anchor="end" font-size="10.8">0</text>
<line x1="33.80" y1="184.84" x2="40.40" y2="184.84" stroke="#000" stroke-width="1"/>
<text x="27.6" y="188.84" text-anchor="end" font-size="10.8">−10</text>
<line x1="33.80" y1="231.12" x2="40.40" y2="231.12" stroke="#000" stroke-width="1"/>
<text x="27.6" y="235.12" text-anchor="end" font-size="10.8">−20</text>
<line x1="33.80" y1="277.40" x2="40.40" y2="277.40" stroke="#000" stroke-width="1"/>
<text x="27.6" y="281.40" text-anchor="end" font-size="10.8">−30</text>
<line x1="40.40" y1="277.40" x2="40.40" y2="284.20" stroke="#000" stroke-width="1"/>
<text x="40.40" y="301.0" text-anchor="middle" font-size="10.8">40</text>
<line x1="102.22" y1="277.40" x2="102.22" y2="284.20" stroke="#000" stroke-width="1"/>
<text x="102.22" y="301.0" text-anchor="middle" font-size="10.8">50</text>
<line x1="164.04" y1="277.40" x2="164.04" y2="284.20" stroke="#000" stroke-width="1"/>
<text x="164.04" y="301.0" text-anchor="middle" font-size="10.8">60</text>
<line x1="225.86" y1="277.40" x2="225.86" y2="284.20" stroke="#000" stroke-width="1"/>
<text x="225.86" y="301.0" text-anchor="middle" font-size="10.8">70</text>
<line x1="287.68" y1="277.40" x2="287.68" y2="284.20" stroke="#000" stroke-width="1"/>
<text x="287.68" y="301.0" text-anchor="middle" font-size="10.8">80</text>
<line x1="349.50" y1="277.40" x2="349.50" y2="284.20" stroke="#000" stroke-width="1"/>
<text x="349.50" y="301.0" text-anchor="middle" font-size="10.8">90</text>
<line x1="411.32" y1="277.40" x2="411.32" y2="284.20" stroke="#000" stroke-width="1"/>
<text x="411.32" y="301.0" text-anchor="middle" font-size="10.8">100</text>
<text transform="translate(241.31,14.5) scale(1,1.06)" text-anchor="middle" font-size="15.9">2015 – 2017</text>
<text transform="translate(13.5,150.6) rotate(-90)" text-anchor="middle" font-size="16.3">Latitude</text>
</g>
<rect x="448.60" y="948.51" width="9.10" height="3.89" fill="#00008c"/>
<rect x="448.60" y="944.92" width="9.10" height="3.89" fill="#03059a"/>
<rect x="448.60" y="941.34" width="9.10" height="3.89" fill="#0609a9"/>
<rect x="448.60" y="937.75" width="9.10" height="3.89" fill="#090eb7"/>
<rect x="448.60" y="934.16" width="9.10" height="3.89" fill="#0b12c5"/>
<rect x="448.60" y="930.57" width="9.10" height="3.89" fill="#0e17d3"/>
<rect x="448.60" y="926.99" width="9.10" height="3.89" fill="#111be2"/>
<rect x="448.60" y="923.40" width="9.10" height="3.89" fill="#1420f0"/>
<rect x="448.60" y="919.81" width="9.10" height="3.89" fill="#1625f0"/>
<rect x="448.60" y="916.22" width="9.10" height="3.89" fill="#182bf0"/>
<rect x="448.60" y="912.64" width="9.10" height="3.89" fill="#1a30f0"/>
<rect x="448.60" y="909.05" width="9.10" height="3.89" fill="#2442f0"/>
<rect x="448.60" y="905.46" width="9.10" height="3.89" fill="#2d54f0"/>
<rect x="448.60" y="901.87" width="9.10" height="3.89" fill="#3666f0"/>
<rect x="448.60" y="898.29" width="9.10" height="3.89" fill="#4078f0"/>
<rect x="448.60" y="894.70" width="9.10" height="3.89" fill="#4986f4"/>
<rect x="448.60" y="891.11" width="9.10" height="3.89" fill="#5294f8"/>
<rect x="448.60" y="887.52" width="9.10" height="3.89" fill="#5ba2fb"/>
<rect x="448.60" y="883.94" width="9.10" height="3.89" fill="#64b0ff"/>
<rect x="448.60" y="880.35" width="9.10" height="3.89" fill="#6dbefe"/>
<rect x="448.60" y="876.76" width="9.10" height="3.89" fill="#76cdfc"/>
<rect x="448.60" y="873.17" width="9.10" height="3.89" fill="#7edbfb"/>
<rect x="448.60" y="869.59" width="9.10" height="3.89" fill="#87eaf9"/>
<rect x="448.60" y="866.00" width="9.10" height="3.89" fill="#90f8f8"/>
<rect x="448.60" y="862.41" width="9.10" height="3.89" fill="#92f8ee"/>
<rect x="448.60" y="858.82" width="9.10" height="3.89" fill="#94f8e4"/>
<rect x="448.60" y="855.24" width="9.10" height="3.89" fill="#96f8da"/>
<rect x="448.60" y="851.65" width="9.10" height="3.89" fill="#98f8d0"/>
<rect x="448.60" y="848.06" width="9.10" height="3.89" fill="#9cf8be"/>
<rect x="448.60" y="844.47" width="9.10" height="3.89" fill="#a0f8ac"/>
<rect x="448.60" y="840.89" width="9.10" height="3.89" fill="#a4f89a"/>
<rect x="448.60" y="837.30" width="9.10" height="3.89" fill="#a8f888"/>
<rect x="448.60" y="833.71" width="9.10" height="3.89" fill="#b1f87e"/>
<rect x="448.60" y="830.12" width="9.10" height="3.89" fill="#baf875"/>
<rect x="448.60" y="826.54" width="9.10" height="3.89" fill="#c2f86b"/>
<rect x="448.60" y="822.95" width="9.10" height="3.89" fill="#cbf862"/>
<rect x="448.60" y="819.36" width="9.10" height="3.89" fill="#d4f858"/>
<rect x="448.60" y="815.77" width="9.10" height="3.89" fill="#e0f64f"/>
<rect x="448.60" y="812.19" width="9.10" height="3.89" fill="#ecf445"/>
<rect x="448.60" y="808.60" width="9.10" height="3.89" fill="#f8f23c"/>
<rect x="448.60" y="805.01" width="9.10" height="3.89" fill="#f6e53a"/>
<rect x="448.60" y="801.42" width="9.10" height="3.89" fill="#f4d838"/>
<rect x="448.60" y="797.84" width="9.10" height="3.89" fill="#f2c834"/>
<rect x="448.60" y="794.25" width="9.10" height="3.89" fill="#f0b830"/>
<rect x="448.60" y="790.66" width="9.10" height="3.89" fill="#eca42d"/>
<rect x="448.60" y="787.08" width="9.10" height="3.89" fill="#e8902a"/>
<rect x="448.60" y="783.49" width="9.10" height="3.89" fill="#e58527"/>
<rect x="448.60" y="779.90" width="9.10" height="3.89" fill="#e37b23"/>
<rect x="448.60" y="776.31" width="9.10" height="3.89" fill="#e07020"/>
<rect x="448.60" y="772.72" width="9.10" height="3.89" fill="#e06119"/>
<rect x="448.60" y="769.14" width="9.10" height="3.89" fill="#e05212"/>
<rect x="448.60" y="765.55" width="9.10" height="3.89" fill="#e0440f"/>
<rect x="448.60" y="761.96" width="9.10" height="3.89" fill="#e0360b"/>
<rect x="448.60" y="758.38" width="9.10" height="3.89" fill="#e02808"/>
<rect x="448.60" y="754.79" width="9.10" height="3.89" fill="#de1404"/>
<rect x="448.60" y="751.20" width="9.10" height="3.89" fill="#dc0000"/>
<rect x="448.60" y="747.61" width="9.10" height="3.89" fill="#d30000"/>
<rect x="448.60" y="744.02" width="9.10" height="3.89" fill="#c90000"/>
<rect x="448.60" y="740.44" width="9.10" height="3.89" fill="#c00000"/>
<rect x="448.60" y="736.85" width="9.10" height="3.89" fill="#b40000"/>
<rect x="448.60" y="733.26" width="9.10" height="3.89" fill="#a80000"/>
<rect x="448.60" y="729.67" width="9.10" height="3.89" fill="#950000"/>
<rect x="448.60" y="726.09" width="9.10" height="3.89" fill="#830000"/>
<rect x="448.60" y="722.50" width="9.10" height="3.89" fill="#700000"/>
<rect x="448.60" y="722.50" width="9.10" height="229.60" fill="none" stroke="#111" stroke-width="1"/>
<line x1="457.70" y1="929.40" x2="463.70" y2="929.40" stroke="#000" stroke-width="1"/>
<text x="470.30" y="934.00" font-size="10.8">10</text>
<line x1="457.70" y1="879.00" x2="463.70" y2="879.00" stroke="#000" stroke-width="1"/>
<text x="470.30" y="883.60" font-size="10.8">12</text>
<line x1="457.70" y1="828.60" x2="463.70" y2="828.60" stroke="#000" stroke-width="1"/>
<text x="470.30" y="833.20" font-size="10.8">14</text>
<line x1="457.70" y1="778.20" x2="463.70" y2="778.20" stroke="#000" stroke-width="1"/>
<text x="470.30" y="782.80" font-size="10.8">16</text>
<line x1="457.70" y1="727.80" x2="463.70" y2="727.80" stroke="#000" stroke-width="1"/>
<text x="470.30" y="732.40" font-size="10.8">18</text>
<text transform="translate(493.00,838.10) rotate(-90)" text-anchor="middle" font-size="16.1">Log(hooks)</text>
<rect x="557.80" y="856.59" width="15.60" height="107.71" fill="#6a98d2" stroke="#000" stroke-width="1"/>
<rect x="557.80" y="951.77" width="15.60" height="12.53" fill="#000080" stroke="#000" stroke-width="1"/>
<rect x="576.56" y="798.83" width="15.60" height="165.47" fill="#6a98d2" stroke="#000" stroke-width="1"/>
<rect x="576.56" y="957.03" width="15.60" height="7.27" fill="#000080" stroke="#000" stroke-width="1"/>
<rect x="595.31" y="793.92" width="15.60" height="170.38" fill="#6a98d2" stroke="#000" stroke-width="1"/>
<rect x="595.31" y="954.31" width="15.60" height="9.99" fill="#000080" stroke="#000" stroke-width="1"/>
<rect x="614.07" y="825.53" width="15.60" height="138.77" fill="#6a98d2" stroke="#000" stroke-width="1"/>
<rect x="614.07" y="957.76" width="15.60" height="6.54" fill="#000080" stroke="#000" stroke-width="1"/>
<rect x="632.82" y="863.49" width="15.60" height="100.81" fill="#6a98d2" stroke="#000" stroke-width="1"/>
<rect x="632.82" y="957.03" width="15.60" height="7.27" fill="#000080" stroke="#000" stroke-width="1"/>
<rect x="651.58" y="882.93" width="15.60" height="81.37" fill="#6a98d2" stroke="#000" stroke-width="1"/>
<rect x="651.58" y="962.30" width="15.60" height="2.00" fill="#000080" stroke="#000" stroke-width="1"/>
<rect x="670.33" y="870.21" width="15.60" height="94.09" fill="#6a98d2" stroke="#000" stroke-width="1"/>
<rect x="670.33" y="963.57" width="15.60" height="0.73" fill="#000080" stroke="#000" stroke-width="1"/>
<rect x="689.09" y="892.55" width="15.60" height="71.75" fill="#6a98d2" stroke="#000" stroke-width="1"/>
<rect x="689.09" y="960.67" width="15.60" height="3.63" fill="#000080" stroke="#000" stroke-width="1"/>
<rect x="707.84" y="886.74" width="15.60" height="77.56" fill="#6a98d2" stroke="#000" stroke-width="1"/>
<rect x="707.84" y="961.76" width="15.60" height="2.54" fill="#000080" stroke="#000" stroke-width="1"/>
<rect x="726.60" y="868.76" width="15.60" height="95.54" fill="#6a98d2" stroke="#000" stroke-width="1"/>
<rect x="726.60" y="956.13" width="15.60" height="8.17" fill="#000080" stroke="#000" stroke-width="1"/>
<rect x="745.35" y="891.83" width="15.60" height="72.47" fill="#6a98d2" stroke="#000" stroke-width="1"/>
<rect x="745.35" y="961.03" width="15.60" height="3.27" fill="#000080" stroke="#000" stroke-width="1"/>
<rect x="764.11" y="829.16" width="15.60" height="135.14" fill="#6a98d2" stroke="#000" stroke-width="1"/>
<rect x="764.11" y="957.03" width="15.60" height="7.27" fill="#000080" stroke="#000" stroke-width="1"/>
<rect x="782.86" y="880.75" width="15.60" height="83.55" fill="#6a98d2" stroke="#000" stroke-width="1"/>
<rect x="782.86" y="961.21" width="15.60" height="3.09" fill="#000080" stroke="#000" stroke-width="1"/>
<rect x="801.62" y="894.91" width="15.60" height="69.39" fill="#6a98d2" stroke="#000" stroke-width="1"/>
<rect x="820.37" y="898.55" width="15.60" height="65.75" fill="#6a98d2" stroke="#000" stroke-width="1"/>
<rect x="839.12" y="905.99" width="15.60" height="58.31" fill="#6a98d2" stroke="#000" stroke-width="1"/>
<rect x="857.88" y="912.71" width="15.60" height="51.59" fill="#6a98d2" stroke="#000" stroke-width="1"/>
<rect x="876.63" y="926.88" width="15.60" height="37.42" fill="#6a98d2" stroke="#000" stroke-width="1"/>
<rect x="895.39" y="924.70" width="15.60" height="39.60" fill="#6a98d2" stroke="#000" stroke-width="1"/>
<rect x="914.14" y="930.15" width="15.60" height="34.15" fill="#6a98d2" stroke="#000" stroke-width="1"/>
<polyline points="565.60,772.49 584.36,776.30 603.11,774.49 621.87,778.66 640.62,739.97 659.38,759.59 678.13,732.53 696.88,719.45 715.64,752.69 734.39,775.03 753.15,857.50 771.90,844.42 790.66,900.73 809.41,919.43 828.17,857.50 846.92,842.60 865.68,841.33 884.43,834.97 903.19,802.64 921.94,831.34" fill="none" stroke="#000" stroke-width="2.5" stroke-dasharray="0 7.9" stroke-linecap="round"/>
<polyline points="565.60,912.53 584.36,861.86 603.11,880.56 621.87,907.08 640.62,917.07 659.38,917.98 678.13,903.45 696.88,939.78 715.64,917.07 734.39,896.73 753.15,919.80 771.90,846.23 790.66,888.01 809.41,894.19 828.17,933.78 846.92,928.70 865.68,932.33 884.43,937.96 903.19,941.78 921.94,935.60" fill="none" stroke="#000" stroke-width="2.3" stroke-dasharray="0 8.35 4.8 8.35" stroke-linecap="round"/>
<line x1="790.66" y1="713.50" x2="790.66" y2="957.50" stroke="#000" stroke-width="1.1" stroke-dasharray="4 3.5"/>
<rect x="543.00" y="710.00" width="401.50" height="254.30" fill="none" stroke="#222" stroke-width="1.1"/>
<line x1="536.20" y1="964.30" x2="543.00" y2="964.30" stroke="#000" stroke-width="1"/>
<text x="530.3" y="968.10" text-anchor="end" font-size="10.4">0</text>
<line x1="536.20" y1="927.97" x2="543.00" y2="927.97" stroke="#000" stroke-width="1"/>
<text x="530.3" y="931.77" text-anchor="end" font-size="10.4">20</text>
<line x1="536.20" y1="891.64" x2="543.00" y2="891.64" stroke="#000" stroke-width="1"/>
<text x="530.3" y="895.44" text-anchor="end" font-size="10.4">40</text>
<line x1="536.20" y1="855.32" x2="543.00" y2="855.32" stroke="#000" stroke-width="1"/>
<text x="530.3" y="859.12" text-anchor="end" font-size="10.4">60</text>
<line x1="536.20" y1="818.99" x2="543.00" y2="818.99" stroke="#000" stroke-width="1"/>
<text x="530.3" y="822.79" text-anchor="end" font-size="10.4">80</text>
<line x1="536.20" y1="782.66" x2="543.00" y2="782.66" stroke="#000" stroke-width="1"/>
<text x="530.3" y="786.46" text-anchor="end" font-size="10.4">100</text>
<line x1="536.20" y1="746.33" x2="543.00" y2="746.33" stroke="#000" stroke-width="1"/>
<text x="530.3" y="750.13" text-anchor="end" font-size="10.4">120</text>
<line x1="536.20" y1="710.00" x2="543.00" y2="710.00" stroke="#000" stroke-width="1"/>
<text x="530.3" y="713.80" text-anchor="end" font-size="10.4">140</text>
<line x1="565.60" y1="965.30" x2="565.60" y2="971.80" stroke="#000" stroke-width="1"/>
<text x="565.60" y="988.2" text-anchor="middle" font-size="10.8">1998</text>
<line x1="584.36" y1="965.30" x2="584.36" y2="971.80" stroke="#000" stroke-width="1"/>
<line x1="603.11" y1="965.30" x2="603.11" y2="971.80" stroke="#000" stroke-width="1"/>
<text x="603.11" y="988.2" text-anchor="middle" font-size="10.8">2000</text>
<line x1="621.87" y1="965.30" x2="621.87" y2="971.80" stroke="#000" stroke-width="1"/>
<line x1="640.62" y1="965.30" x2="640.62" y2="971.80" stroke="#000" stroke-width="1"/>
<text x="640.62" y="988.2" text-anchor="middle" font-size="10.8">2002</text>
<line x1="659.38" y1="965.30" x2="659.38" y2="971.80" stroke="#000" stroke-width="1"/>
<line x1="678.13" y1="965.30" x2="678.13" y2="971.80" stroke="#000" stroke-width="1"/>
<text x="678.13" y="988.2" text-anchor="middle" font-size="10.8">2004</text>
<line x1="696.88" y1="965.30" x2="696.88" y2="971.80" stroke="#000" stroke-width="1"/>
<line x1="715.64" y1="965.30" x2="715.64" y2="971.80" stroke="#000" stroke-width="1"/>
<text x="715.64" y="988.2" text-anchor="middle" font-size="10.8">2006</text>
<line x1="734.39" y1="965.30" x2="734.39" y2="971.80" stroke="#000" stroke-width="1"/>
<line x1="753.15" y1="965.30" x2="753.15" y2="971.80" stroke="#000" stroke-width="1"/>
<text x="753.15" y="988.2" text-anchor="middle" font-size="10.8">2008</text>
<line x1="771.90" y1="965.30" x2="771.90" y2="971.80" stroke="#000" stroke-width="1"/>
<line x1="790.66" y1="965.30" x2="790.66" y2="971.80" stroke="#000" stroke-width="1"/>
<text x="790.66" y="988.2" text-anchor="middle" font-size="10.8">2010</text>
<line x1="809.41" y1="965.30" x2="809.41" y2="971.80" stroke="#000" stroke-width="1"/>
<line x1="828.17" y1="965.30" x2="828.17" y2="971.80" stroke="#000" stroke-width="1"/>
<text x="828.17" y="988.2" text-anchor="middle" font-size="10.8">2012</text>
<line x1="846.92" y1="965.30" x2="846.92" y2="971.80" stroke="#000" stroke-width="1"/>
<line x1="865.68" y1="965.30" x2="865.68" y2="971.80" stroke="#000" stroke-width="1"/>
<text x="865.68" y="988.2" text-anchor="middle" font-size="10.8">2014</text>
<line x1="884.43" y1="965.30" x2="884.43" y2="971.80" stroke="#000" stroke-width="1"/>
<line x1="903.19" y1="965.30" x2="903.19" y2="971.80" stroke="#000" stroke-width="1"/>
<text x="903.19" y="988.2" text-anchor="middle" font-size="10.8">2016</text>
<line x1="921.94" y1="965.30" x2="921.94" y2="971.80" stroke="#000" stroke-width="1"/>
<text transform="translate(744,1007.3) scale(1,1.12)" text-anchor="middle" font-size="15.6">Year</text>
<text transform="translate(515.6,836.9) rotate(-90)" text-anchor="middle" font-size="16.2">Million hooks</text>
<rect x="849.3" y="715" width="87.5" height="38" fill="#fff" stroke="#000" stroke-width="1"/>
<rect x="856.8" y="725.5" width="4" height="4" fill="#6a98d2"/>
<rect x="856.8" y="738" width="4" height="4" fill="#000080"/>
<text x="868.7" y="731.6" font-size="10.4">IOTC records</text>
<text x="868.7" y="744.2" font-size="10.4">BIOT records</text>
<text x="4.8" y="14.7" font-size="16.9" font-weight="bold">A</text>
<text x="495.0" y="14.7" font-size="16.9" font-weight="bold">B</text>
<text x="4.8" y="358.5" font-size="16.9" font-weight="bold">C</text>
<text x="495.0" y="358.5" font-size="16.9" font-weight="bold">D</text>
<text x="4.2" y="700.1" font-size="16.9" font-weight="bold">E</text>
<text x="495.0" y="700.1" font-size="16.9" font-weight="bold">F</text>
<text transform="translate(743.71,669.6) scale(1,1.05)" text-anchor="middle" font-size="16">Longitude</text>
<text transform="translate(241.31,1013.3) scale(1,1.05)" text-anchor="middle" font-size="16">Longitude</text>
</svg></body></html>
